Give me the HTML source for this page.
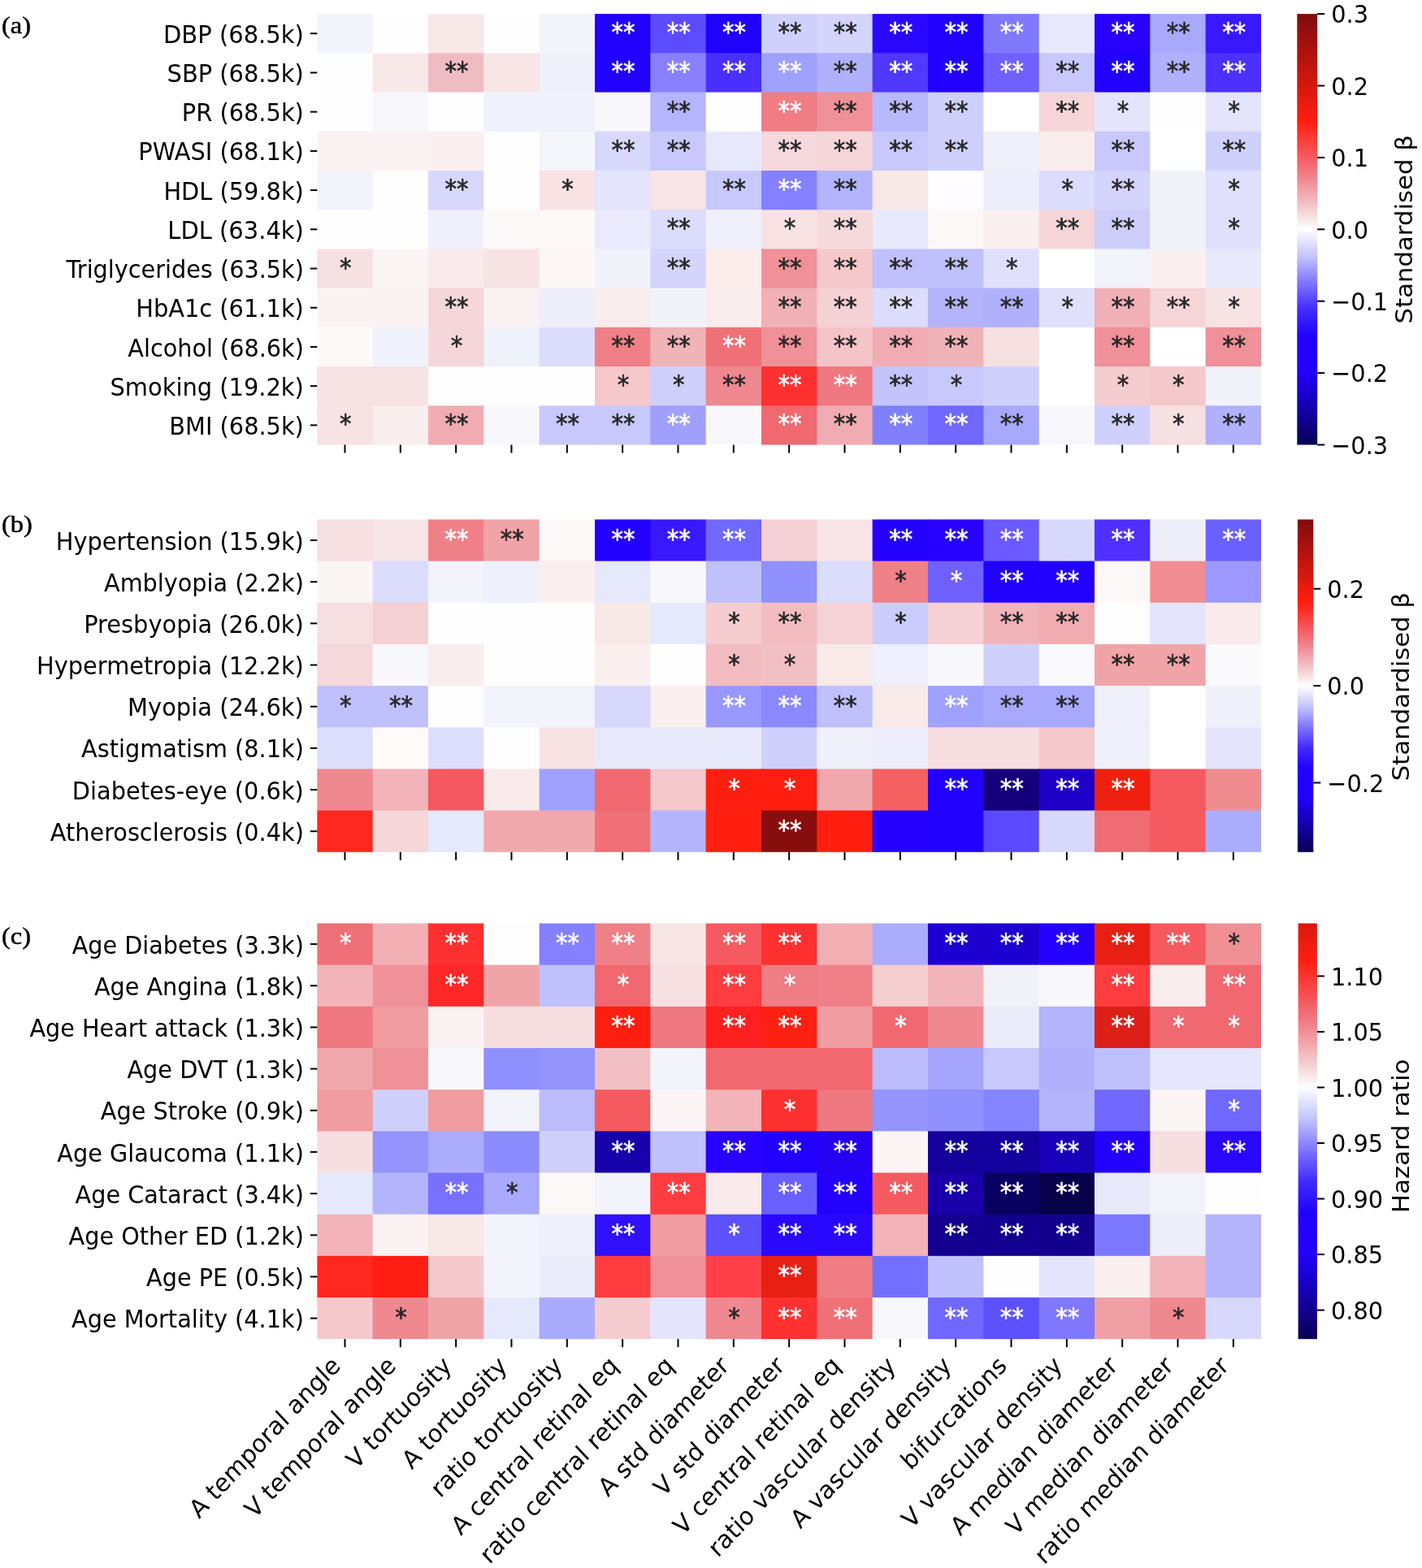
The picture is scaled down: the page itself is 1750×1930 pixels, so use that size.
<!DOCTYPE html><html><head><meta charset="utf-8"><style>html,body{margin:0;padding:0;background:#fff;}body{width:1750px;height:1930px;overflow:hidden;}svg{display:block;}text{font-family:"DejaVu Sans", "Liberation Sans", sans-serif;}</style></head><body>
<svg width="1750" height="1930" viewBox="0 0 1750 1930">
<rect x="0" y="0" width="1750" height="1930" fill="#fff"/>
<rect x="390.30" y="17.10" width="69.34" height="49.22" fill="#F2F3FB"/>
<rect x="458.64" y="17.10" width="69.34" height="49.22" fill="#FEFDFF"/>
<rect x="526.97" y="17.10" width="69.34" height="49.22" fill="#F8E8E8"/>
<rect x="595.31" y="17.10" width="69.34" height="49.22" fill="#FEFDFF"/>
<rect x="663.64" y="17.10" width="69.34" height="49.22" fill="#F3F3FB"/>
<rect x="731.98" y="17.10" width="69.34" height="49.22" fill="#2200FF"/>
<rect x="800.31" y="17.10" width="69.34" height="49.22" fill="#5C4CFF"/>
<rect x="868.65" y="17.10" width="69.34" height="49.22" fill="#2000FF"/>
<rect x="936.98" y="17.10" width="69.34" height="49.22" fill="#D0D0FC"/>
<rect x="1005.32" y="17.10" width="69.34" height="49.22" fill="#D4D4FC"/>
<rect x="1073.65" y="17.10" width="69.34" height="49.22" fill="#2A08FF"/>
<rect x="1141.99" y="17.10" width="69.34" height="49.22" fill="#2200FF"/>
<rect x="1210.32" y="17.10" width="69.34" height="49.22" fill="#8078FF"/>
<rect x="1278.66" y="17.10" width="69.34" height="49.22" fill="#E8E8FC"/>
<rect x="1346.99" y="17.10" width="69.34" height="49.22" fill="#2800FF"/>
<rect x="1415.33" y="17.10" width="69.34" height="49.22" fill="#A8A8FC"/>
<rect x="1483.66" y="17.10" width="68.34" height="49.22" fill="#3A18FF"/>
<rect x="390.30" y="65.32" width="69.34" height="49.22" fill="#FEFDFF"/>
<rect x="458.64" y="65.32" width="69.34" height="49.22" fill="#F8E8E8"/>
<rect x="526.97" y="65.32" width="69.34" height="49.22" fill="#F0BCC3"/>
<rect x="595.31" y="65.32" width="69.34" height="49.22" fill="#F8E6E6"/>
<rect x="663.64" y="65.32" width="69.34" height="49.22" fill="#F0F0FA"/>
<rect x="731.98" y="65.32" width="69.34" height="49.22" fill="#2200FF"/>
<rect x="800.31" y="65.32" width="69.34" height="49.22" fill="#8880FF"/>
<rect x="868.65" y="65.32" width="69.34" height="49.22" fill="#4A30FF"/>
<rect x="936.98" y="65.32" width="69.34" height="49.22" fill="#A0A0FF"/>
<rect x="1005.32" y="65.32" width="69.34" height="49.22" fill="#B0B0FC"/>
<rect x="1073.65" y="65.32" width="69.34" height="49.22" fill="#5038FF"/>
<rect x="1141.99" y="65.32" width="69.34" height="49.22" fill="#2200FF"/>
<rect x="1210.32" y="65.32" width="69.34" height="49.22" fill="#7060FF"/>
<rect x="1278.66" y="65.32" width="69.34" height="49.22" fill="#C8C8FC"/>
<rect x="1346.99" y="65.32" width="69.34" height="49.22" fill="#2200FF"/>
<rect x="1415.33" y="65.32" width="69.34" height="49.22" fill="#B0B0FC"/>
<rect x="1483.66" y="65.32" width="68.34" height="49.22" fill="#4C30FF"/>
<rect x="390.30" y="113.54" width="69.34" height="49.22" fill="#FEFDFF"/>
<rect x="458.64" y="113.54" width="69.34" height="49.22" fill="#F7F7FC"/>
<rect x="526.97" y="113.54" width="69.34" height="49.22" fill="#FEFDFF"/>
<rect x="595.31" y="113.54" width="69.34" height="49.22" fill="#F0F2FB"/>
<rect x="663.64" y="113.54" width="69.34" height="49.22" fill="#F0F2FB"/>
<rect x="731.98" y="113.54" width="69.34" height="49.22" fill="#F8F8FC"/>
<rect x="800.31" y="113.54" width="69.34" height="49.22" fill="#B4B4FF"/>
<rect x="868.65" y="113.54" width="69.34" height="49.22" fill="#FEFEFF"/>
<rect x="936.98" y="113.54" width="69.34" height="49.22" fill="#F07C84"/>
<rect x="1005.32" y="113.54" width="69.34" height="49.22" fill="#F09098"/>
<rect x="1073.65" y="113.54" width="69.34" height="49.22" fill="#B8B8FC"/>
<rect x="1141.99" y="113.54" width="69.34" height="49.22" fill="#CFCFFC"/>
<rect x="1210.32" y="113.54" width="69.34" height="49.22" fill="#FFFFFF"/>
<rect x="1278.66" y="113.54" width="69.34" height="49.22" fill="#F5D5D8"/>
<rect x="1346.99" y="113.54" width="69.34" height="49.22" fill="#E4E4FC"/>
<rect x="1415.33" y="113.54" width="69.34" height="49.22" fill="#FFFEFF"/>
<rect x="1483.66" y="113.54" width="68.34" height="49.22" fill="#E4E4FC"/>
<rect x="390.30" y="161.75" width="69.34" height="49.22" fill="#FBF3F3"/>
<rect x="458.64" y="161.75" width="69.34" height="49.22" fill="#FBF3F3"/>
<rect x="526.97" y="161.75" width="69.34" height="49.22" fill="#FAF0F0"/>
<rect x="595.31" y="161.75" width="69.34" height="49.22" fill="#FEFDFF"/>
<rect x="663.64" y="161.75" width="69.34" height="49.22" fill="#F5F5FC"/>
<rect x="731.98" y="161.75" width="69.34" height="49.22" fill="#D8D8FC"/>
<rect x="800.31" y="161.75" width="69.34" height="49.22" fill="#C8C8FC"/>
<rect x="868.65" y="161.75" width="69.34" height="49.22" fill="#E8E8FC"/>
<rect x="936.98" y="161.75" width="69.34" height="49.22" fill="#F5D8DC"/>
<rect x="1005.32" y="161.75" width="69.34" height="49.22" fill="#F5D6D9"/>
<rect x="1073.65" y="161.75" width="69.34" height="49.22" fill="#C8C8FC"/>
<rect x="1141.99" y="161.75" width="69.34" height="49.22" fill="#CFCFFC"/>
<rect x="1210.32" y="161.75" width="69.34" height="49.22" fill="#F0F0FA"/>
<rect x="1278.66" y="161.75" width="69.34" height="49.22" fill="#F9EDEE"/>
<rect x="1346.99" y="161.75" width="69.34" height="49.22" fill="#C8C8FC"/>
<rect x="1415.33" y="161.75" width="69.34" height="49.22" fill="#FFFFFF"/>
<rect x="1483.66" y="161.75" width="68.34" height="49.22" fill="#D0D0FC"/>
<rect x="390.30" y="209.97" width="69.34" height="49.22" fill="#F2F3FB"/>
<rect x="458.64" y="209.97" width="69.34" height="49.22" fill="#FEFDFF"/>
<rect x="526.97" y="209.97" width="69.34" height="49.22" fill="#D8D8FC"/>
<rect x="595.31" y="209.97" width="69.34" height="49.22" fill="#FEFDFF"/>
<rect x="663.64" y="209.97" width="69.34" height="49.22" fill="#F8E2E4"/>
<rect x="731.98" y="209.97" width="69.34" height="49.22" fill="#E4E4FC"/>
<rect x="800.31" y="209.97" width="69.34" height="49.22" fill="#F8E4E6"/>
<rect x="868.65" y="209.97" width="69.34" height="49.22" fill="#C8C8FC"/>
<rect x="936.98" y="209.97" width="69.34" height="49.22" fill="#8480FF"/>
<rect x="1005.32" y="209.97" width="69.34" height="49.22" fill="#B4B4FC"/>
<rect x="1073.65" y="209.97" width="69.34" height="49.22" fill="#F8E8E8"/>
<rect x="1141.99" y="209.97" width="69.34" height="49.22" fill="#FEFCFE"/>
<rect x="1210.32" y="209.97" width="69.34" height="49.22" fill="#ECECFA"/>
<rect x="1278.66" y="209.97" width="69.34" height="49.22" fill="#DCDCFC"/>
<rect x="1346.99" y="209.97" width="69.34" height="49.22" fill="#D4D4FC"/>
<rect x="1415.33" y="209.97" width="69.34" height="49.22" fill="#F2F2FA"/>
<rect x="1483.66" y="209.97" width="68.34" height="49.22" fill="#E0E0FC"/>
<rect x="390.30" y="258.19" width="69.34" height="49.22" fill="#FEFDFF"/>
<rect x="458.64" y="258.19" width="69.34" height="49.22" fill="#FEFDFF"/>
<rect x="526.97" y="258.19" width="69.34" height="49.22" fill="#F0F0FC"/>
<rect x="595.31" y="258.19" width="69.34" height="49.22" fill="#FDF8F8"/>
<rect x="663.64" y="258.19" width="69.34" height="49.22" fill="#FDF8F8"/>
<rect x="731.98" y="258.19" width="69.34" height="49.22" fill="#EAEAFC"/>
<rect x="800.31" y="258.19" width="69.34" height="49.22" fill="#DCDCFC"/>
<rect x="868.65" y="258.19" width="69.34" height="49.22" fill="#F0F0FC"/>
<rect x="936.98" y="258.19" width="69.34" height="49.22" fill="#F8E2E4"/>
<rect x="1005.32" y="258.19" width="69.34" height="49.22" fill="#F5DADC"/>
<rect x="1073.65" y="258.19" width="69.34" height="49.22" fill="#E8EAFC"/>
<rect x="1141.99" y="258.19" width="69.34" height="49.22" fill="#FDF8F8"/>
<rect x="1210.32" y="258.19" width="69.34" height="49.22" fill="#FBF0F0"/>
<rect x="1278.66" y="258.19" width="69.34" height="49.22" fill="#F5D5D8"/>
<rect x="1346.99" y="258.19" width="69.34" height="49.22" fill="#CDCDFC"/>
<rect x="1415.33" y="258.19" width="69.34" height="49.22" fill="#F2F2FA"/>
<rect x="1483.66" y="258.19" width="68.34" height="49.22" fill="#E0E0FC"/>
<rect x="390.30" y="306.41" width="69.34" height="49.22" fill="#F7E0E2"/>
<rect x="458.64" y="306.41" width="69.34" height="49.22" fill="#FBF5F5"/>
<rect x="526.97" y="306.41" width="69.34" height="49.22" fill="#F9EAEB"/>
<rect x="595.31" y="306.41" width="69.34" height="49.22" fill="#F7E2E4"/>
<rect x="663.64" y="306.41" width="69.34" height="49.22" fill="#FCF7F5"/>
<rect x="731.98" y="306.41" width="69.34" height="49.22" fill="#F2F2FA"/>
<rect x="800.31" y="306.41" width="69.34" height="49.22" fill="#D4D4FC"/>
<rect x="868.65" y="306.41" width="69.34" height="49.22" fill="#FAEDEC"/>
<rect x="936.98" y="306.41" width="69.34" height="49.22" fill="#F09098"/>
<rect x="1005.32" y="306.41" width="69.34" height="49.22" fill="#F5C8CC"/>
<rect x="1073.65" y="306.41" width="69.34" height="49.22" fill="#C0C0FC"/>
<rect x="1141.99" y="306.41" width="69.34" height="49.22" fill="#C0C0FC"/>
<rect x="1210.32" y="306.41" width="69.34" height="49.22" fill="#E0E0FC"/>
<rect x="1278.66" y="306.41" width="69.34" height="49.22" fill="#FFFFFF"/>
<rect x="1346.99" y="306.41" width="69.34" height="49.22" fill="#F2F3FB"/>
<rect x="1415.33" y="306.41" width="69.34" height="49.22" fill="#FAF0F0"/>
<rect x="1483.66" y="306.41" width="68.34" height="49.22" fill="#E8EAFC"/>
<rect x="390.30" y="354.63" width="69.34" height="49.22" fill="#FBF3F3"/>
<rect x="458.64" y="354.63" width="69.34" height="49.22" fill="#FBF3F3"/>
<rect x="526.97" y="354.63" width="69.34" height="49.22" fill="#F5D6D9"/>
<rect x="595.31" y="354.63" width="69.34" height="49.22" fill="#FAF2F2"/>
<rect x="663.64" y="354.63" width="69.34" height="49.22" fill="#EEEEFA"/>
<rect x="731.98" y="354.63" width="69.34" height="49.22" fill="#F9ECEC"/>
<rect x="800.31" y="354.63" width="69.34" height="49.22" fill="#F2F2FA"/>
<rect x="868.65" y="354.63" width="69.34" height="49.22" fill="#F9ECEC"/>
<rect x="936.98" y="354.63" width="69.34" height="49.22" fill="#F0B0B5"/>
<rect x="1005.32" y="354.63" width="69.34" height="49.22" fill="#F5D0D4"/>
<rect x="1073.65" y="354.63" width="69.34" height="49.22" fill="#DCDCFC"/>
<rect x="1141.99" y="354.63" width="69.34" height="49.22" fill="#B4B4FC"/>
<rect x="1210.32" y="354.63" width="69.34" height="49.22" fill="#B0B0FC"/>
<rect x="1278.66" y="354.63" width="69.34" height="49.22" fill="#E0E0FC"/>
<rect x="1346.99" y="354.63" width="69.34" height="49.22" fill="#F0B0B5"/>
<rect x="1415.33" y="354.63" width="69.34" height="49.22" fill="#F5D5D8"/>
<rect x="1483.66" y="354.63" width="68.34" height="49.22" fill="#F7E2E4"/>
<rect x="390.30" y="402.85" width="69.34" height="49.22" fill="#FEF9F9"/>
<rect x="458.64" y="402.85" width="69.34" height="49.22" fill="#F0F2FB"/>
<rect x="526.97" y="402.85" width="69.34" height="49.22" fill="#F5D6D9"/>
<rect x="595.31" y="402.85" width="69.34" height="49.22" fill="#F0F2FB"/>
<rect x="663.64" y="402.85" width="69.34" height="49.22" fill="#DCDCFC"/>
<rect x="731.98" y="402.85" width="69.34" height="49.22" fill="#F08088"/>
<rect x="800.31" y="402.85" width="69.34" height="49.22" fill="#F0B4B8"/>
<rect x="868.65" y="402.85" width="69.34" height="49.22" fill="#F07078"/>
<rect x="936.98" y="402.85" width="69.34" height="49.22" fill="#F09098"/>
<rect x="1005.32" y="402.85" width="69.34" height="49.22" fill="#F5C4C8"/>
<rect x="1073.65" y="402.85" width="69.34" height="49.22" fill="#F0ACB2"/>
<rect x="1141.99" y="402.85" width="69.34" height="49.22" fill="#F0B4B8"/>
<rect x="1210.32" y="402.85" width="69.34" height="49.22" fill="#F7E0E2"/>
<rect x="1278.66" y="402.85" width="69.34" height="49.22" fill="#FFFFFF"/>
<rect x="1346.99" y="402.85" width="69.34" height="49.22" fill="#F09098"/>
<rect x="1415.33" y="402.85" width="69.34" height="49.22" fill="#FFFFFF"/>
<rect x="1483.66" y="402.85" width="68.34" height="49.22" fill="#F09098"/>
<rect x="390.30" y="451.06" width="69.34" height="49.22" fill="#F7E2E4"/>
<rect x="458.64" y="451.06" width="69.34" height="49.22" fill="#F7E2E4"/>
<rect x="526.97" y="451.06" width="69.34" height="49.22" fill="#FFFEFF"/>
<rect x="595.31" y="451.06" width="69.34" height="49.22" fill="#FFFEFF"/>
<rect x="663.64" y="451.06" width="69.34" height="49.22" fill="#FFFEFF"/>
<rect x="731.98" y="451.06" width="69.34" height="49.22" fill="#F5C8CC"/>
<rect x="800.31" y="451.06" width="69.34" height="49.22" fill="#D0D0FC"/>
<rect x="868.65" y="451.06" width="69.34" height="49.22" fill="#F08890"/>
<rect x="936.98" y="451.06" width="69.34" height="49.22" fill="#FF3030"/>
<rect x="1005.32" y="451.06" width="69.34" height="49.22" fill="#F07880"/>
<rect x="1073.65" y="451.06" width="69.34" height="49.22" fill="#C4C4FC"/>
<rect x="1141.99" y="451.06" width="69.34" height="49.22" fill="#C8C8FC"/>
<rect x="1210.32" y="451.06" width="69.34" height="49.22" fill="#D0D0FC"/>
<rect x="1278.66" y="451.06" width="69.34" height="49.22" fill="#FFFFFF"/>
<rect x="1346.99" y="451.06" width="69.34" height="49.22" fill="#F5CCD0"/>
<rect x="1415.33" y="451.06" width="69.34" height="49.22" fill="#F5C8CC"/>
<rect x="1483.66" y="451.06" width="68.34" height="49.22" fill="#F2F3FA"/>
<rect x="390.30" y="499.28" width="69.34" height="48.22" fill="#F7E2E4"/>
<rect x="458.64" y="499.28" width="69.34" height="48.22" fill="#F9EEEE"/>
<rect x="526.97" y="499.28" width="69.34" height="48.22" fill="#F0ACB2"/>
<rect x="595.31" y="499.28" width="69.34" height="48.22" fill="#F7F7FC"/>
<rect x="663.64" y="499.28" width="69.34" height="48.22" fill="#C8C8FC"/>
<rect x="731.98" y="499.28" width="69.34" height="48.22" fill="#C8C8FC"/>
<rect x="800.31" y="499.28" width="69.34" height="48.22" fill="#A0A0FC"/>
<rect x="868.65" y="499.28" width="69.34" height="48.22" fill="#F8F8FC"/>
<rect x="936.98" y="499.28" width="69.34" height="48.22" fill="#F06870"/>
<rect x="1005.32" y="499.28" width="69.34" height="48.22" fill="#F0ACB2"/>
<rect x="1073.65" y="499.28" width="69.34" height="48.22" fill="#8080FF"/>
<rect x="1141.99" y="499.28" width="69.34" height="48.22" fill="#7068FF"/>
<rect x="1210.32" y="499.28" width="69.34" height="48.22" fill="#A8A8FC"/>
<rect x="1278.66" y="499.28" width="69.34" height="48.22" fill="#F8F8FC"/>
<rect x="1346.99" y="499.28" width="69.34" height="48.22" fill="#D0D0FC"/>
<rect x="1415.33" y="499.28" width="69.34" height="48.22" fill="#F7E0E2"/>
<rect x="1483.66" y="499.28" width="68.34" height="48.22" fill="#B0B0FC"/>
<text transform="translate(766.94 50.21) scale(1 1.08)" font-size="29" text-anchor="middle" fill="#ffffff" stroke="#ffffff" stroke-width="0.6" stroke-linejoin="round">**</text>
<text transform="translate(835.28 50.21) scale(1 1.08)" font-size="29" text-anchor="middle" fill="#ffffff" stroke="#ffffff" stroke-width="0.6" stroke-linejoin="round">**</text>
<text transform="translate(903.61 50.21) scale(1 1.08)" font-size="29" text-anchor="middle" fill="#ffffff" stroke="#ffffff" stroke-width="0.6" stroke-linejoin="round">**</text>
<text transform="translate(971.95 50.21) scale(1 1.08)" font-size="29" text-anchor="middle" fill="#262626" stroke="#262626" stroke-width="0.6" stroke-linejoin="round">**</text>
<text transform="translate(1040.29 50.21) scale(1 1.08)" font-size="29" text-anchor="middle" fill="#262626" stroke="#262626" stroke-width="0.6" stroke-linejoin="round">**</text>
<text transform="translate(1108.62 50.21) scale(1 1.08)" font-size="29" text-anchor="middle" fill="#ffffff" stroke="#ffffff" stroke-width="0.6" stroke-linejoin="round">**</text>
<text transform="translate(1176.96 50.21) scale(1 1.08)" font-size="29" text-anchor="middle" fill="#ffffff" stroke="#ffffff" stroke-width="0.6" stroke-linejoin="round">**</text>
<text transform="translate(1245.29 50.21) scale(1 1.08)" font-size="29" text-anchor="middle" fill="#ffffff" stroke="#ffffff" stroke-width="0.6" stroke-linejoin="round">**</text>
<text transform="translate(1381.96 50.21) scale(1 1.08)" font-size="29" text-anchor="middle" fill="#ffffff" stroke="#ffffff" stroke-width="0.6" stroke-linejoin="round">**</text>
<text transform="translate(1450.30 50.21) scale(1 1.08)" font-size="29" text-anchor="middle" fill="#262626" stroke="#262626" stroke-width="0.6" stroke-linejoin="round">**</text>
<text transform="translate(1518.63 50.21) scale(1 1.08)" font-size="29" text-anchor="middle" fill="#ffffff" stroke="#ffffff" stroke-width="0.6" stroke-linejoin="round">**</text>
<line x1="381.80" y1="41.21" x2="390.30" y2="41.21" stroke="#000" stroke-width="2"/>
<text transform="translate(373.87 52.81) scale(0.9427 1)" font-size="30.75" text-anchor="end" fill="#000">DBP (68.5k)</text>
<text transform="translate(561.94 98.43) scale(1 1.08)" font-size="29" text-anchor="middle" fill="#262626" stroke="#262626" stroke-width="0.6" stroke-linejoin="round">**</text>
<text transform="translate(766.94 98.43) scale(1 1.08)" font-size="29" text-anchor="middle" fill="#ffffff" stroke="#ffffff" stroke-width="0.6" stroke-linejoin="round">**</text>
<text transform="translate(835.28 98.43) scale(1 1.08)" font-size="29" text-anchor="middle" fill="#ffffff" stroke="#ffffff" stroke-width="0.6" stroke-linejoin="round">**</text>
<text transform="translate(903.61 98.43) scale(1 1.08)" font-size="29" text-anchor="middle" fill="#ffffff" stroke="#ffffff" stroke-width="0.6" stroke-linejoin="round">**</text>
<text transform="translate(971.95 98.43) scale(1 1.08)" font-size="29" text-anchor="middle" fill="#ffffff" stroke="#ffffff" stroke-width="0.6" stroke-linejoin="round">**</text>
<text transform="translate(1040.29 98.43) scale(1 1.08)" font-size="29" text-anchor="middle" fill="#262626" stroke="#262626" stroke-width="0.6" stroke-linejoin="round">**</text>
<text transform="translate(1108.62 98.43) scale(1 1.08)" font-size="29" text-anchor="middle" fill="#ffffff" stroke="#ffffff" stroke-width="0.6" stroke-linejoin="round">**</text>
<text transform="translate(1176.96 98.43) scale(1 1.08)" font-size="29" text-anchor="middle" fill="#ffffff" stroke="#ffffff" stroke-width="0.6" stroke-linejoin="round">**</text>
<text transform="translate(1245.29 98.43) scale(1 1.08)" font-size="29" text-anchor="middle" fill="#ffffff" stroke="#ffffff" stroke-width="0.6" stroke-linejoin="round">**</text>
<text transform="translate(1313.63 98.43) scale(1 1.08)" font-size="29" text-anchor="middle" fill="#262626" stroke="#262626" stroke-width="0.6" stroke-linejoin="round">**</text>
<text transform="translate(1381.96 98.43) scale(1 1.08)" font-size="29" text-anchor="middle" fill="#ffffff" stroke="#ffffff" stroke-width="0.6" stroke-linejoin="round">**</text>
<text transform="translate(1450.30 98.43) scale(1 1.08)" font-size="29" text-anchor="middle" fill="#262626" stroke="#262626" stroke-width="0.6" stroke-linejoin="round">**</text>
<text transform="translate(1518.63 98.43) scale(1 1.08)" font-size="29" text-anchor="middle" fill="#ffffff" stroke="#ffffff" stroke-width="0.6" stroke-linejoin="round">**</text>
<line x1="381.80" y1="89.43" x2="390.30" y2="89.43" stroke="#000" stroke-width="2"/>
<text transform="translate(373.86 101.03) scale(0.9394 1)" font-size="30.75" text-anchor="end" fill="#000">SBP (68.5k)</text>
<text transform="translate(835.28 146.65) scale(1 1.08)" font-size="29" text-anchor="middle" fill="#262626" stroke="#262626" stroke-width="0.6" stroke-linejoin="round">**</text>
<text transform="translate(971.95 146.65) scale(1 1.08)" font-size="29" text-anchor="middle" fill="#ffffff" stroke="#ffffff" stroke-width="0.6" stroke-linejoin="round">**</text>
<text transform="translate(1040.29 146.65) scale(1 1.08)" font-size="29" text-anchor="middle" fill="#262626" stroke="#262626" stroke-width="0.6" stroke-linejoin="round">**</text>
<text transform="translate(1108.62 146.65) scale(1 1.08)" font-size="29" text-anchor="middle" fill="#262626" stroke="#262626" stroke-width="0.6" stroke-linejoin="round">**</text>
<text transform="translate(1176.96 146.65) scale(1 1.08)" font-size="29" text-anchor="middle" fill="#262626" stroke="#262626" stroke-width="0.6" stroke-linejoin="round">**</text>
<text transform="translate(1313.63 146.65) scale(1 1.08)" font-size="29" text-anchor="middle" fill="#262626" stroke="#262626" stroke-width="0.6" stroke-linejoin="round">**</text>
<text transform="translate(1381.96 146.65) scale(1 1.08)" font-size="29" text-anchor="middle" fill="#262626" stroke="#262626" stroke-width="0.6" stroke-linejoin="round">*</text>
<text transform="translate(1518.63 146.65) scale(1 1.08)" font-size="29" text-anchor="middle" fill="#262626" stroke="#262626" stroke-width="0.6" stroke-linejoin="round">*</text>
<line x1="381.80" y1="137.65" x2="390.30" y2="137.65" stroke="#000" stroke-width="2"/>
<text transform="translate(373.86 149.25) scale(0.9387 1)" font-size="30.75" text-anchor="end" fill="#000">PR (68.5k)</text>
<text transform="translate(766.94 194.86) scale(1 1.08)" font-size="29" text-anchor="middle" fill="#262626" stroke="#262626" stroke-width="0.6" stroke-linejoin="round">**</text>
<text transform="translate(835.28 194.86) scale(1 1.08)" font-size="29" text-anchor="middle" fill="#262626" stroke="#262626" stroke-width="0.6" stroke-linejoin="round">**</text>
<text transform="translate(971.95 194.86) scale(1 1.08)" font-size="29" text-anchor="middle" fill="#262626" stroke="#262626" stroke-width="0.6" stroke-linejoin="round">**</text>
<text transform="translate(1040.29 194.86) scale(1 1.08)" font-size="29" text-anchor="middle" fill="#262626" stroke="#262626" stroke-width="0.6" stroke-linejoin="round">**</text>
<text transform="translate(1108.62 194.86) scale(1 1.08)" font-size="29" text-anchor="middle" fill="#262626" stroke="#262626" stroke-width="0.6" stroke-linejoin="round">**</text>
<text transform="translate(1176.96 194.86) scale(1 1.08)" font-size="29" text-anchor="middle" fill="#262626" stroke="#262626" stroke-width="0.6" stroke-linejoin="round">**</text>
<text transform="translate(1381.96 194.86) scale(1 1.08)" font-size="29" text-anchor="middle" fill="#262626" stroke="#262626" stroke-width="0.6" stroke-linejoin="round">**</text>
<text transform="translate(1518.63 194.86) scale(1 1.08)" font-size="29" text-anchor="middle" fill="#262626" stroke="#262626" stroke-width="0.6" stroke-linejoin="round">**</text>
<line x1="381.80" y1="185.86" x2="390.30" y2="185.86" stroke="#000" stroke-width="2"/>
<text transform="translate(373.86 197.46) scale(0.9387 1)" font-size="30.75" text-anchor="end" fill="#000">PWASI (68.1k)</text>
<text transform="translate(561.94 243.08) scale(1 1.08)" font-size="29" text-anchor="middle" fill="#262626" stroke="#262626" stroke-width="0.6" stroke-linejoin="round">**</text>
<text transform="translate(698.61 243.08) scale(1 1.08)" font-size="29" text-anchor="middle" fill="#262626" stroke="#262626" stroke-width="0.6" stroke-linejoin="round">*</text>
<text transform="translate(903.61 243.08) scale(1 1.08)" font-size="29" text-anchor="middle" fill="#262626" stroke="#262626" stroke-width="0.6" stroke-linejoin="round">**</text>
<text transform="translate(971.95 243.08) scale(1 1.08)" font-size="29" text-anchor="middle" fill="#ffffff" stroke="#ffffff" stroke-width="0.6" stroke-linejoin="round">**</text>
<text transform="translate(1040.29 243.08) scale(1 1.08)" font-size="29" text-anchor="middle" fill="#262626" stroke="#262626" stroke-width="0.6" stroke-linejoin="round">**</text>
<text transform="translate(1313.63 243.08) scale(1 1.08)" font-size="29" text-anchor="middle" fill="#262626" stroke="#262626" stroke-width="0.6" stroke-linejoin="round">*</text>
<text transform="translate(1381.96 243.08) scale(1 1.08)" font-size="29" text-anchor="middle" fill="#262626" stroke="#262626" stroke-width="0.6" stroke-linejoin="round">**</text>
<text transform="translate(1518.63 243.08) scale(1 1.08)" font-size="29" text-anchor="middle" fill="#262626" stroke="#262626" stroke-width="0.6" stroke-linejoin="round">*</text>
<line x1="381.80" y1="234.08" x2="390.30" y2="234.08" stroke="#000" stroke-width="2"/>
<text transform="translate(373.86 245.68) scale(0.9374 1)" font-size="30.75" text-anchor="end" fill="#000">HDL (59.8k)</text>
<text transform="translate(835.28 291.30) scale(1 1.08)" font-size="29" text-anchor="middle" fill="#262626" stroke="#262626" stroke-width="0.6" stroke-linejoin="round">**</text>
<text transform="translate(971.95 291.30) scale(1 1.08)" font-size="29" text-anchor="middle" fill="#262626" stroke="#262626" stroke-width="0.6" stroke-linejoin="round">*</text>
<text transform="translate(1040.29 291.30) scale(1 1.08)" font-size="29" text-anchor="middle" fill="#262626" stroke="#262626" stroke-width="0.6" stroke-linejoin="round">**</text>
<text transform="translate(1313.63 291.30) scale(1 1.08)" font-size="29" text-anchor="middle" fill="#262626" stroke="#262626" stroke-width="0.6" stroke-linejoin="round">**</text>
<text transform="translate(1381.96 291.30) scale(1 1.08)" font-size="29" text-anchor="middle" fill="#262626" stroke="#262626" stroke-width="0.6" stroke-linejoin="round">**</text>
<text transform="translate(1518.63 291.30) scale(1 1.08)" font-size="29" text-anchor="middle" fill="#262626" stroke="#262626" stroke-width="0.6" stroke-linejoin="round">*</text>
<line x1="381.80" y1="282.30" x2="390.30" y2="282.30" stroke="#000" stroke-width="2"/>
<text transform="translate(373.87 293.90) scale(0.9416 1)" font-size="30.75" text-anchor="end" fill="#000">LDL (63.4k)</text>
<text transform="translate(425.27 339.52) scale(1 1.08)" font-size="29" text-anchor="middle" fill="#262626" stroke="#262626" stroke-width="0.6" stroke-linejoin="round">*</text>
<text transform="translate(835.28 339.52) scale(1 1.08)" font-size="29" text-anchor="middle" fill="#262626" stroke="#262626" stroke-width="0.6" stroke-linejoin="round">**</text>
<text transform="translate(971.95 339.52) scale(1 1.08)" font-size="29" text-anchor="middle" fill="#262626" stroke="#262626" stroke-width="0.6" stroke-linejoin="round">**</text>
<text transform="translate(1040.29 339.52) scale(1 1.08)" font-size="29" text-anchor="middle" fill="#262626" stroke="#262626" stroke-width="0.6" stroke-linejoin="round">**</text>
<text transform="translate(1108.62 339.52) scale(1 1.08)" font-size="29" text-anchor="middle" fill="#262626" stroke="#262626" stroke-width="0.6" stroke-linejoin="round">**</text>
<text transform="translate(1176.96 339.52) scale(1 1.08)" font-size="29" text-anchor="middle" fill="#262626" stroke="#262626" stroke-width="0.6" stroke-linejoin="round">**</text>
<text transform="translate(1245.29 339.52) scale(1 1.08)" font-size="29" text-anchor="middle" fill="#262626" stroke="#262626" stroke-width="0.6" stroke-linejoin="round">*</text>
<line x1="381.80" y1="330.52" x2="390.30" y2="330.52" stroke="#000" stroke-width="2"/>
<text transform="translate(373.85 342.12) scale(0.9338 1)" font-size="30.75" text-anchor="end" fill="#000">Triglycerides (63.5k)</text>
<text transform="translate(561.94 387.74) scale(1 1.08)" font-size="29" text-anchor="middle" fill="#262626" stroke="#262626" stroke-width="0.6" stroke-linejoin="round">**</text>
<text transform="translate(971.95 387.74) scale(1 1.08)" font-size="29" text-anchor="middle" fill="#262626" stroke="#262626" stroke-width="0.6" stroke-linejoin="round">**</text>
<text transform="translate(1040.29 387.74) scale(1 1.08)" font-size="29" text-anchor="middle" fill="#262626" stroke="#262626" stroke-width="0.6" stroke-linejoin="round">**</text>
<text transform="translate(1108.62 387.74) scale(1 1.08)" font-size="29" text-anchor="middle" fill="#262626" stroke="#262626" stroke-width="0.6" stroke-linejoin="round">**</text>
<text transform="translate(1176.96 387.74) scale(1 1.08)" font-size="29" text-anchor="middle" fill="#262626" stroke="#262626" stroke-width="0.6" stroke-linejoin="round">**</text>
<text transform="translate(1245.29 387.74) scale(1 1.08)" font-size="29" text-anchor="middle" fill="#262626" stroke="#262626" stroke-width="0.6" stroke-linejoin="round">**</text>
<text transform="translate(1313.63 387.74) scale(1 1.08)" font-size="29" text-anchor="middle" fill="#262626" stroke="#262626" stroke-width="0.6" stroke-linejoin="round">*</text>
<text transform="translate(1381.96 387.74) scale(1 1.08)" font-size="29" text-anchor="middle" fill="#262626" stroke="#262626" stroke-width="0.6" stroke-linejoin="round">**</text>
<text transform="translate(1450.30 387.74) scale(1 1.08)" font-size="29" text-anchor="middle" fill="#262626" stroke="#262626" stroke-width="0.6" stroke-linejoin="round">**</text>
<text transform="translate(1518.63 387.74) scale(1 1.08)" font-size="29" text-anchor="middle" fill="#262626" stroke="#262626" stroke-width="0.6" stroke-linejoin="round">*</text>
<line x1="381.80" y1="378.74" x2="390.30" y2="378.74" stroke="#000" stroke-width="2"/>
<text transform="translate(373.86 390.34) scale(0.9391 1)" font-size="30.75" text-anchor="end" fill="#000">HbA1c (61.1k)</text>
<text transform="translate(561.94 435.95) scale(1 1.08)" font-size="29" text-anchor="middle" fill="#262626" stroke="#262626" stroke-width="0.6" stroke-linejoin="round">*</text>
<text transform="translate(766.94 435.95) scale(1 1.08)" font-size="29" text-anchor="middle" fill="#262626" stroke="#262626" stroke-width="0.6" stroke-linejoin="round">**</text>
<text transform="translate(835.28 435.95) scale(1 1.08)" font-size="29" text-anchor="middle" fill="#262626" stroke="#262626" stroke-width="0.6" stroke-linejoin="round">**</text>
<text transform="translate(903.61 435.95) scale(1 1.08)" font-size="29" text-anchor="middle" fill="#ffffff" stroke="#ffffff" stroke-width="0.6" stroke-linejoin="round">**</text>
<text transform="translate(971.95 435.95) scale(1 1.08)" font-size="29" text-anchor="middle" fill="#262626" stroke="#262626" stroke-width="0.6" stroke-linejoin="round">**</text>
<text transform="translate(1040.29 435.95) scale(1 1.08)" font-size="29" text-anchor="middle" fill="#262626" stroke="#262626" stroke-width="0.6" stroke-linejoin="round">**</text>
<text transform="translate(1108.62 435.95) scale(1 1.08)" font-size="29" text-anchor="middle" fill="#262626" stroke="#262626" stroke-width="0.6" stroke-linejoin="round">**</text>
<text transform="translate(1176.96 435.95) scale(1 1.08)" font-size="29" text-anchor="middle" fill="#262626" stroke="#262626" stroke-width="0.6" stroke-linejoin="round">**</text>
<text transform="translate(1381.96 435.95) scale(1 1.08)" font-size="29" text-anchor="middle" fill="#262626" stroke="#262626" stroke-width="0.6" stroke-linejoin="round">**</text>
<text transform="translate(1518.63 435.95) scale(1 1.08)" font-size="29" text-anchor="middle" fill="#262626" stroke="#262626" stroke-width="0.6" stroke-linejoin="round">**</text>
<line x1="381.80" y1="426.95" x2="390.30" y2="426.95" stroke="#000" stroke-width="2"/>
<text transform="translate(373.85 438.55) scale(0.9330 1)" font-size="30.75" text-anchor="end" fill="#000">Alcohol (68.6k)</text>
<text transform="translate(766.94 484.17) scale(1 1.08)" font-size="29" text-anchor="middle" fill="#262626" stroke="#262626" stroke-width="0.6" stroke-linejoin="round">*</text>
<text transform="translate(835.28 484.17) scale(1 1.08)" font-size="29" text-anchor="middle" fill="#262626" stroke="#262626" stroke-width="0.6" stroke-linejoin="round">*</text>
<text transform="translate(903.61 484.17) scale(1 1.08)" font-size="29" text-anchor="middle" fill="#262626" stroke="#262626" stroke-width="0.6" stroke-linejoin="round">**</text>
<text transform="translate(971.95 484.17) scale(1 1.08)" font-size="29" text-anchor="middle" fill="#ffffff" stroke="#ffffff" stroke-width="0.6" stroke-linejoin="round">**</text>
<text transform="translate(1040.29 484.17) scale(1 1.08)" font-size="29" text-anchor="middle" fill="#ffffff" stroke="#ffffff" stroke-width="0.6" stroke-linejoin="round">**</text>
<text transform="translate(1108.62 484.17) scale(1 1.08)" font-size="29" text-anchor="middle" fill="#262626" stroke="#262626" stroke-width="0.6" stroke-linejoin="round">**</text>
<text transform="translate(1176.96 484.17) scale(1 1.08)" font-size="29" text-anchor="middle" fill="#262626" stroke="#262626" stroke-width="0.6" stroke-linejoin="round">*</text>
<text transform="translate(1381.96 484.17) scale(1 1.08)" font-size="29" text-anchor="middle" fill="#262626" stroke="#262626" stroke-width="0.6" stroke-linejoin="round">*</text>
<text transform="translate(1450.30 484.17) scale(1 1.08)" font-size="29" text-anchor="middle" fill="#262626" stroke="#262626" stroke-width="0.6" stroke-linejoin="round">*</text>
<line x1="381.80" y1="475.17" x2="390.30" y2="475.17" stroke="#000" stroke-width="2"/>
<text transform="translate(373.86 486.77) scale(0.9398 1)" font-size="30.75" text-anchor="end" fill="#000">Smoking (19.2k)</text>
<text transform="translate(425.27 532.39) scale(1 1.08)" font-size="29" text-anchor="middle" fill="#262626" stroke="#262626" stroke-width="0.6" stroke-linejoin="round">*</text>
<text transform="translate(561.94 532.39) scale(1 1.08)" font-size="29" text-anchor="middle" fill="#262626" stroke="#262626" stroke-width="0.6" stroke-linejoin="round">**</text>
<text transform="translate(698.61 532.39) scale(1 1.08)" font-size="29" text-anchor="middle" fill="#262626" stroke="#262626" stroke-width="0.6" stroke-linejoin="round">**</text>
<text transform="translate(766.94 532.39) scale(1 1.08)" font-size="29" text-anchor="middle" fill="#262626" stroke="#262626" stroke-width="0.6" stroke-linejoin="round">**</text>
<text transform="translate(835.28 532.39) scale(1 1.08)" font-size="29" text-anchor="middle" fill="#ffffff" stroke="#ffffff" stroke-width="0.6" stroke-linejoin="round">**</text>
<text transform="translate(971.95 532.39) scale(1 1.08)" font-size="29" text-anchor="middle" fill="#ffffff" stroke="#ffffff" stroke-width="0.6" stroke-linejoin="round">**</text>
<text transform="translate(1040.29 532.39) scale(1 1.08)" font-size="29" text-anchor="middle" fill="#262626" stroke="#262626" stroke-width="0.6" stroke-linejoin="round">**</text>
<text transform="translate(1108.62 532.39) scale(1 1.08)" font-size="29" text-anchor="middle" fill="#ffffff" stroke="#ffffff" stroke-width="0.6" stroke-linejoin="round">**</text>
<text transform="translate(1176.96 532.39) scale(1 1.08)" font-size="29" text-anchor="middle" fill="#ffffff" stroke="#ffffff" stroke-width="0.6" stroke-linejoin="round">**</text>
<text transform="translate(1245.29 532.39) scale(1 1.08)" font-size="29" text-anchor="middle" fill="#262626" stroke="#262626" stroke-width="0.6" stroke-linejoin="round">**</text>
<text transform="translate(1381.96 532.39) scale(1 1.08)" font-size="29" text-anchor="middle" fill="#262626" stroke="#262626" stroke-width="0.6" stroke-linejoin="round">**</text>
<text transform="translate(1450.30 532.39) scale(1 1.08)" font-size="29" text-anchor="middle" fill="#262626" stroke="#262626" stroke-width="0.6" stroke-linejoin="round">*</text>
<text transform="translate(1518.63 532.39) scale(1 1.08)" font-size="29" text-anchor="middle" fill="#262626" stroke="#262626" stroke-width="0.6" stroke-linejoin="round">**</text>
<line x1="381.80" y1="523.39" x2="390.30" y2="523.39" stroke="#000" stroke-width="2"/>
<text transform="translate(373.85 534.99) scale(0.9366 1)" font-size="30.75" text-anchor="end" fill="#000">BMI (68.5k)</text>
<line x1="424.47" y1="547.50" x2="424.47" y2="557.50" stroke="#000" stroke-width="2"/>
<line x1="492.80" y1="547.50" x2="492.80" y2="557.50" stroke="#000" stroke-width="2"/>
<line x1="561.14" y1="547.50" x2="561.14" y2="557.50" stroke="#000" stroke-width="2"/>
<line x1="629.47" y1="547.50" x2="629.47" y2="557.50" stroke="#000" stroke-width="2"/>
<line x1="697.81" y1="547.50" x2="697.81" y2="557.50" stroke="#000" stroke-width="2"/>
<line x1="766.14" y1="547.50" x2="766.14" y2="557.50" stroke="#000" stroke-width="2"/>
<line x1="834.48" y1="547.50" x2="834.48" y2="557.50" stroke="#000" stroke-width="2"/>
<line x1="902.81" y1="547.50" x2="902.81" y2="557.50" stroke="#000" stroke-width="2"/>
<line x1="971.15" y1="547.50" x2="971.15" y2="557.50" stroke="#000" stroke-width="2"/>
<line x1="1039.49" y1="547.50" x2="1039.49" y2="557.50" stroke="#000" stroke-width="2"/>
<line x1="1107.82" y1="547.50" x2="1107.82" y2="557.50" stroke="#000" stroke-width="2"/>
<line x1="1176.16" y1="547.50" x2="1176.16" y2="557.50" stroke="#000" stroke-width="2"/>
<line x1="1244.49" y1="547.50" x2="1244.49" y2="557.50" stroke="#000" stroke-width="2"/>
<line x1="1312.83" y1="547.50" x2="1312.83" y2="557.50" stroke="#000" stroke-width="2"/>
<line x1="1381.16" y1="547.50" x2="1381.16" y2="557.50" stroke="#000" stroke-width="2"/>
<line x1="1449.50" y1="547.50" x2="1449.50" y2="557.50" stroke="#000" stroke-width="2"/>
<line x1="1517.83" y1="547.50" x2="1517.83" y2="557.50" stroke="#000" stroke-width="2"/>
<text transform="translate(1.9 41.3) scale(1.1 1)" font-size="29.6" fill="#000" stroke="#000" stroke-width="0.5" style="font-family:'Liberation Serif',serif">(a)</text>
<defs><linearGradient id="g1" x1="0" y1="0" x2="0" y2="1"><stop offset="0.0000" stop-color="rgb(128,12,12)"/><stop offset="0.0078" stop-color="rgb(132,13,12)"/><stop offset="0.0156" stop-color="rgb(136,13,12)"/><stop offset="0.0234" stop-color="rgb(140,14,12)"/><stop offset="0.0312" stop-color="rgb(144,14,12)"/><stop offset="0.0391" stop-color="rgb(148,15,13)"/><stop offset="0.0469" stop-color="rgb(152,15,13)"/><stop offset="0.0547" stop-color="rgb(156,16,13)"/><stop offset="0.0625" stop-color="rgb(160,16,13)"/><stop offset="0.0703" stop-color="rgb(164,17,13)"/><stop offset="0.0781" stop-color="rgb(168,18,13)"/><stop offset="0.0859" stop-color="rgb(172,18,13)"/><stop offset="0.0938" stop-color="rgb(176,19,14)"/><stop offset="0.1016" stop-color="rgb(180,19,14)"/><stop offset="0.1094" stop-color="rgb(184,20,14)"/><stop offset="0.1172" stop-color="rgb(188,20,14)"/><stop offset="0.1250" stop-color="rgb(192,21,14)"/><stop offset="0.1328" stop-color="rgb(195,22,14)"/><stop offset="0.1406" stop-color="rgb(199,22,14)"/><stop offset="0.1484" stop-color="rgb(203,23,14)"/><stop offset="0.1562" stop-color="rgb(207,23,14)"/><stop offset="0.1641" stop-color="rgb(211,24,15)"/><stop offset="0.1719" stop-color="rgb(215,24,15)"/><stop offset="0.1797" stop-color="rgb(219,25,15)"/><stop offset="0.1875" stop-color="rgb(223,26,15)"/><stop offset="0.1953" stop-color="rgb(227,26,15)"/><stop offset="0.2031" stop-color="rgb(231,27,15)"/><stop offset="0.2109" stop-color="rgb(235,27,15)"/><stop offset="0.2188" stop-color="rgb(239,28,16)"/><stop offset="0.2266" stop-color="rgb(243,28,16)"/><stop offset="0.2344" stop-color="rgb(247,29,16)"/><stop offset="0.2422" stop-color="rgb(251,29,16)"/><stop offset="0.2500" stop-color="rgb(255,30,16)"/><stop offset="0.2578" stop-color="rgb(254,36,24)"/><stop offset="0.2656" stop-color="rgb(253,41,31)"/><stop offset="0.2734" stop-color="rgb(252,47,39)"/><stop offset="0.2812" stop-color="rgb(251,53,47)"/><stop offset="0.2891" stop-color="rgb(250,59,55)"/><stop offset="0.2969" stop-color="rgb(249,64,62)"/><stop offset="0.3047" stop-color="rgb(248,70,70)"/><stop offset="0.3125" stop-color="rgb(247,76,78)"/><stop offset="0.3203" stop-color="rgb(246,82,85)"/><stop offset="0.3281" stop-color="rgb(245,88,93)"/><stop offset="0.3359" stop-color="rgb(244,94,100)"/><stop offset="0.3438" stop-color="rgb(243,101,107)"/><stop offset="0.3516" stop-color="rgb(242,108,114)"/><stop offset="0.3594" stop-color="rgb(242,115,122)"/><stop offset="0.3672" stop-color="rgb(241,121,129)"/><stop offset="0.3750" stop-color="rgb(240,128,136)"/><stop offset="0.3828" stop-color="rgb(240,136,143)"/><stop offset="0.3906" stop-color="rgb(240,144,151)"/><stop offset="0.3984" stop-color="rgb(241,151,158)"/><stop offset="0.4062" stop-color="rgb(241,159,166)"/><stop offset="0.4141" stop-color="rgb(241,167,173)"/><stop offset="0.4219" stop-color="rgb(242,174,180)"/><stop offset="0.4297" stop-color="rgb(242,182,188)"/><stop offset="0.4375" stop-color="rgb(242,190,195)"/><stop offset="0.4453" stop-color="rgb(243,198,202)"/><stop offset="0.4531" stop-color="rgb(244,206,210)"/><stop offset="0.4609" stop-color="rgb(246,214,217)"/><stop offset="0.4688" stop-color="rgb(247,222,224)"/><stop offset="0.4766" stop-color="rgb(248,230,232)"/><stop offset="0.4844" stop-color="rgb(251,238,239)"/><stop offset="0.4922" stop-color="rgb(253,247,247)"/><stop offset="0.5000" stop-color="rgb(255,255,255)"/><stop offset="0.5078" stop-color="rgb(247,247,254)"/><stop offset="0.5156" stop-color="rgb(239,239,253)"/><stop offset="0.5234" stop-color="rgb(232,232,252)"/><stop offset="0.5312" stop-color="rgb(224,224,252)"/><stop offset="0.5391" stop-color="rgb(217,217,252)"/><stop offset="0.5469" stop-color="rgb(210,210,253)"/><stop offset="0.5547" stop-color="rgb(203,203,253)"/><stop offset="0.5625" stop-color="rgb(196,196,253)"/><stop offset="0.5703" stop-color="rgb(187,186,253)"/><stop offset="0.5781" stop-color="rgb(178,176,254)"/><stop offset="0.5859" stop-color="rgb(170,166,254)"/><stop offset="0.5938" stop-color="rgb(161,156,254)"/><stop offset="0.6016" stop-color="rgb(152,146,254)"/><stop offset="0.6094" stop-color="rgb(144,136,254)"/><stop offset="0.6172" stop-color="rgb(135,126,255)"/><stop offset="0.6250" stop-color="rgb(126,116,255)"/><stop offset="0.6328" stop-color="rgb(118,107,255)"/><stop offset="0.6406" stop-color="rgb(111,98,255)"/><stop offset="0.6484" stop-color="rgb(104,88,255)"/><stop offset="0.6562" stop-color="rgb(96,79,255)"/><stop offset="0.6641" stop-color="rgb(88,70,255)"/><stop offset="0.6719" stop-color="rgb(81,60,255)"/><stop offset="0.6797" stop-color="rgb(74,51,255)"/><stop offset="0.6875" stop-color="rgb(66,42,255)"/><stop offset="0.6953" stop-color="rgb(62,37,255)"/><stop offset="0.7031" stop-color="rgb(58,32,255)"/><stop offset="0.7109" stop-color="rgb(54,26,255)"/><stop offset="0.7188" stop-color="rgb(50,21,255)"/><stop offset="0.7266" stop-color="rgb(46,16,255)"/><stop offset="0.7344" stop-color="rgb(42,10,255)"/><stop offset="0.7422" stop-color="rgb(38,5,255)"/><stop offset="0.7500" stop-color="rgb(34,0,255)"/><stop offset="0.7578" stop-color="rgb(34,0,255)"/><stop offset="0.7656" stop-color="rgb(34,0,254)"/><stop offset="0.7734" stop-color="rgb(34,0,254)"/><stop offset="0.7812" stop-color="rgb(34,0,253)"/><stop offset="0.7891" stop-color="rgb(34,0,253)"/><stop offset="0.7969" stop-color="rgb(34,0,252)"/><stop offset="0.8047" stop-color="rgb(34,0,252)"/><stop offset="0.8125" stop-color="rgb(34,0,251)"/><stop offset="0.8203" stop-color="rgb(34,0,251)"/><stop offset="0.8281" stop-color="rgb(34,0,250)"/><stop offset="0.8359" stop-color="rgb(33,0,247)"/><stop offset="0.8438" stop-color="rgb(32,0,239)"/><stop offset="0.8516" stop-color="rgb(31,0,232)"/><stop offset="0.8594" stop-color="rgb(30,0,225)"/><stop offset="0.8672" stop-color="rgb(28,0,218)"/><stop offset="0.8750" stop-color="rgb(27,0,211)"/><stop offset="0.8828" stop-color="rgb(26,0,204)"/><stop offset="0.8906" stop-color="rgb(24,0,197)"/><stop offset="0.8984" stop-color="rgb(23,0,189)"/><stop offset="0.9062" stop-color="rgb(22,0,181)"/><stop offset="0.9141" stop-color="rgb(21,0,173)"/><stop offset="0.9219" stop-color="rgb(20,0,165)"/><stop offset="0.9297" stop-color="rgb(18,0,157)"/><stop offset="0.9375" stop-color="rgb(17,0,149)"/><stop offset="0.9453" stop-color="rgb(16,0,141)"/><stop offset="0.9531" stop-color="rgb(15,0,132)"/><stop offset="0.9609" stop-color="rgb(14,0,124)"/><stop offset="0.9688" stop-color="rgb(13,0,115)"/><stop offset="0.9766" stop-color="rgb(12,0,106)"/><stop offset="0.9844" stop-color="rgb(10,0,98)"/><stop offset="0.9922" stop-color="rgb(9,0,89)"/><stop offset="1.0000" stop-color="rgb(8,0,80)"/></linearGradient></defs>
<rect x="1596.3" y="17.1" width="24.90" height="530.40" fill="url(#g1)"/>
<line x1="1621.20" y1="17.10" x2="1630.20" y2="17.10" stroke="#000" stroke-width="2"/>
<text transform="translate(1638.20 28.40) scale(0.937 1)" font-size="30.75" fill="#000">0.3</text>
<line x1="1621.20" y1="105.50" x2="1630.20" y2="105.50" stroke="#000" stroke-width="2"/>
<text transform="translate(1638.20 116.80) scale(0.937 1)" font-size="30.75" fill="#000">0.2</text>
<line x1="1621.20" y1="193.90" x2="1630.20" y2="193.90" stroke="#000" stroke-width="2"/>
<text transform="translate(1638.20 205.20) scale(0.937 1)" font-size="30.75" fill="#000">0.1</text>
<line x1="1621.20" y1="282.30" x2="1630.20" y2="282.30" stroke="#000" stroke-width="2"/>
<text transform="translate(1638.20 293.60) scale(0.937 1)" font-size="30.75" fill="#000">0.0</text>
<line x1="1621.20" y1="370.70" x2="1630.20" y2="370.70" stroke="#000" stroke-width="2"/>
<text transform="translate(1638.20 382.00) scale(0.937 1)" font-size="30.75" fill="#000">−0.1</text>
<line x1="1621.20" y1="459.10" x2="1630.20" y2="459.10" stroke="#000" stroke-width="2"/>
<text transform="translate(1638.20 470.40) scale(0.937 1)" font-size="30.75" fill="#000">−0.2</text>
<line x1="1621.20" y1="547.50" x2="1630.20" y2="547.50" stroke="#000" stroke-width="2"/>
<text transform="translate(1638.20 558.80) scale(0.937 1)" font-size="30.75" fill="#000">−0.3</text>
<text transform="translate(1738.2 282.30) scale(0.937 1) rotate(-90)" font-size="30.75" text-anchor="middle" fill="#000">Standardised β</text>
<rect x="390.30" y="639.40" width="69.34" height="52.17" fill="#F7E0E2"/>
<rect x="458.64" y="639.40" width="69.34" height="52.17" fill="#F7E4E6"/>
<rect x="526.97" y="639.40" width="69.34" height="52.17" fill="#F08088"/>
<rect x="595.31" y="639.40" width="69.34" height="52.17" fill="#F0A4A8"/>
<rect x="663.64" y="639.40" width="69.34" height="52.17" fill="#FDF8F8"/>
<rect x="731.98" y="639.40" width="69.34" height="52.17" fill="#2200FF"/>
<rect x="800.31" y="639.40" width="69.34" height="52.17" fill="#3A18FF"/>
<rect x="868.65" y="639.40" width="69.34" height="52.17" fill="#7068FF"/>
<rect x="936.98" y="639.40" width="69.34" height="52.17" fill="#F5D0D4"/>
<rect x="1005.32" y="639.40" width="69.34" height="52.17" fill="#F8E4E6"/>
<rect x="1073.65" y="639.40" width="69.34" height="52.17" fill="#2400FF"/>
<rect x="1141.99" y="639.40" width="69.34" height="52.17" fill="#2800FF"/>
<rect x="1210.32" y="639.40" width="69.34" height="52.17" fill="#6A5AFF"/>
<rect x="1278.66" y="639.40" width="69.34" height="52.17" fill="#D8D8FC"/>
<rect x="1346.99" y="639.40" width="69.34" height="52.17" fill="#5030FF"/>
<rect x="1415.33" y="639.40" width="69.34" height="52.17" fill="#EEEEFA"/>
<rect x="1483.66" y="639.40" width="68.34" height="52.17" fill="#6A60FF"/>
<rect x="390.30" y="690.57" width="69.34" height="52.18" fill="#FCF5F5"/>
<rect x="458.64" y="690.57" width="69.34" height="52.18" fill="#DCDCFC"/>
<rect x="526.97" y="690.57" width="69.34" height="52.18" fill="#F2F3FB"/>
<rect x="595.31" y="690.57" width="69.34" height="52.18" fill="#EEF0FB"/>
<rect x="663.64" y="690.57" width="69.34" height="52.18" fill="#FAEEEE"/>
<rect x="731.98" y="690.57" width="69.34" height="52.18" fill="#E6E8FC"/>
<rect x="800.31" y="690.57" width="69.34" height="52.18" fill="#F8F8FC"/>
<rect x="868.65" y="690.57" width="69.34" height="52.18" fill="#C0C0FC"/>
<rect x="936.98" y="690.57" width="69.34" height="52.18" fill="#9090FF"/>
<rect x="1005.32" y="690.57" width="69.34" height="52.18" fill="#DCDCFC"/>
<rect x="1073.65" y="690.57" width="69.34" height="52.18" fill="#F08088"/>
<rect x="1141.99" y="690.57" width="69.34" height="52.18" fill="#7060FF"/>
<rect x="1210.32" y="690.57" width="69.34" height="52.18" fill="#2200FF"/>
<rect x="1278.66" y="690.57" width="69.34" height="52.18" fill="#2200FF"/>
<rect x="1346.99" y="690.57" width="69.34" height="52.18" fill="#FDF8F8"/>
<rect x="1415.33" y="690.57" width="69.34" height="52.18" fill="#F08C92"/>
<rect x="1483.66" y="690.57" width="68.34" height="52.18" fill="#9C98FF"/>
<rect x="390.30" y="741.75" width="69.34" height="52.17" fill="#F7E0E2"/>
<rect x="458.64" y="741.75" width="69.34" height="52.17" fill="#F5D0D4"/>
<rect x="526.97" y="741.75" width="69.34" height="52.17" fill="#FFFEFF"/>
<rect x="595.31" y="741.75" width="69.34" height="52.17" fill="#FFFEFF"/>
<rect x="663.64" y="741.75" width="69.34" height="52.17" fill="#FFFEFF"/>
<rect x="731.98" y="741.75" width="69.34" height="52.17" fill="#F9E8E8"/>
<rect x="800.31" y="741.75" width="69.34" height="52.17" fill="#E6E8FC"/>
<rect x="868.65" y="741.75" width="69.34" height="52.17" fill="#F5CCD0"/>
<rect x="936.98" y="741.75" width="69.34" height="52.17" fill="#F2BCC0"/>
<rect x="1005.32" y="741.75" width="69.34" height="52.17" fill="#F5D2D6"/>
<rect x="1073.65" y="741.75" width="69.34" height="52.17" fill="#CCCCFC"/>
<rect x="1141.99" y="741.75" width="69.34" height="52.17" fill="#F5D0D4"/>
<rect x="1210.32" y="741.75" width="69.34" height="52.17" fill="#F2B4B8"/>
<rect x="1278.66" y="741.75" width="69.34" height="52.17" fill="#F0ACB0"/>
<rect x="1346.99" y="741.75" width="69.34" height="52.17" fill="#FFFEFF"/>
<rect x="1415.33" y="741.75" width="69.34" height="52.17" fill="#E4E4FC"/>
<rect x="1483.66" y="741.75" width="68.34" height="52.17" fill="#F9EAEB"/>
<rect x="390.30" y="792.92" width="69.34" height="52.17" fill="#F5D8DC"/>
<rect x="458.64" y="792.92" width="69.34" height="52.17" fill="#F8F8FC"/>
<rect x="526.97" y="792.92" width="69.34" height="52.17" fill="#F9EEEE"/>
<rect x="595.31" y="792.92" width="69.34" height="52.17" fill="#FFFEFF"/>
<rect x="663.64" y="792.92" width="69.34" height="52.17" fill="#FFFEFF"/>
<rect x="731.98" y="792.92" width="69.34" height="52.17" fill="#FAEFEF"/>
<rect x="800.31" y="792.92" width="69.34" height="52.17" fill="#FFFEFF"/>
<rect x="868.65" y="792.92" width="69.34" height="52.17" fill="#F2BCC0"/>
<rect x="936.98" y="792.92" width="69.34" height="52.17" fill="#F2C0C4"/>
<rect x="1005.32" y="792.92" width="69.34" height="52.17" fill="#F9EAEA"/>
<rect x="1073.65" y="792.92" width="69.34" height="52.17" fill="#EEEEFC"/>
<rect x="1141.99" y="792.92" width="69.34" height="52.17" fill="#F8F8FC"/>
<rect x="1210.32" y="792.92" width="69.34" height="52.17" fill="#D0D0FC"/>
<rect x="1278.66" y="792.92" width="69.34" height="52.17" fill="#FAFAFC"/>
<rect x="1346.99" y="792.92" width="69.34" height="52.17" fill="#F0A4A8"/>
<rect x="1415.33" y="792.92" width="69.34" height="52.17" fill="#F0A4A8"/>
<rect x="1483.66" y="792.92" width="68.34" height="52.17" fill="#FAFAFC"/>
<rect x="390.30" y="844.10" width="69.34" height="52.18" fill="#C0C0FC"/>
<rect x="458.64" y="844.10" width="69.34" height="52.18" fill="#C0C0FC"/>
<rect x="526.97" y="844.10" width="69.34" height="52.18" fill="#FFFEFF"/>
<rect x="595.31" y="844.10" width="69.34" height="52.18" fill="#F2F3FB"/>
<rect x="663.64" y="844.10" width="69.34" height="52.18" fill="#F2F3FB"/>
<rect x="731.98" y="844.10" width="69.34" height="52.18" fill="#D8D8FC"/>
<rect x="800.31" y="844.10" width="69.34" height="52.18" fill="#FAF0F0"/>
<rect x="868.65" y="844.10" width="69.34" height="52.18" fill="#9898FF"/>
<rect x="936.98" y="844.10" width="69.34" height="52.18" fill="#8C88FF"/>
<rect x="1005.32" y="844.10" width="69.34" height="52.18" fill="#C0C0FC"/>
<rect x="1073.65" y="844.10" width="69.34" height="52.18" fill="#F9EAEA"/>
<rect x="1141.99" y="844.10" width="69.34" height="52.18" fill="#A0A0FF"/>
<rect x="1210.32" y="844.10" width="69.34" height="52.18" fill="#A8A8FC"/>
<rect x="1278.66" y="844.10" width="69.34" height="52.18" fill="#A8A8FC"/>
<rect x="1346.99" y="844.10" width="69.34" height="52.18" fill="#F0F0FA"/>
<rect x="1415.33" y="844.10" width="69.34" height="52.18" fill="#FFFFFF"/>
<rect x="1483.66" y="844.10" width="68.34" height="52.18" fill="#F0F0FA"/>
<rect x="390.30" y="895.27" width="69.34" height="52.17" fill="#DCDEFC"/>
<rect x="458.64" y="895.27" width="69.34" height="52.17" fill="#FEFAFA"/>
<rect x="526.97" y="895.27" width="69.34" height="52.17" fill="#DCDEFC"/>
<rect x="595.31" y="895.27" width="69.34" height="52.17" fill="#FFFEFF"/>
<rect x="663.64" y="895.27" width="69.34" height="52.17" fill="#F7E2E4"/>
<rect x="731.98" y="895.27" width="69.34" height="52.17" fill="#E8EAFC"/>
<rect x="800.31" y="895.27" width="69.34" height="52.17" fill="#E8EAFC"/>
<rect x="868.65" y="895.27" width="69.34" height="52.17" fill="#E8EAFC"/>
<rect x="936.98" y="895.27" width="69.34" height="52.17" fill="#D0D0FC"/>
<rect x="1005.32" y="895.27" width="69.34" height="52.17" fill="#F0F0FA"/>
<rect x="1073.65" y="895.27" width="69.34" height="52.17" fill="#ECECFA"/>
<rect x="1141.99" y="895.27" width="69.34" height="52.17" fill="#F7DEE0"/>
<rect x="1210.32" y="895.27" width="69.34" height="52.17" fill="#F7DEE0"/>
<rect x="1278.66" y="895.27" width="69.34" height="52.17" fill="#F5C8CC"/>
<rect x="1346.99" y="895.27" width="69.34" height="52.17" fill="#F0F0FA"/>
<rect x="1415.33" y="895.27" width="69.34" height="52.17" fill="#FFFFFF"/>
<rect x="1483.66" y="895.27" width="68.34" height="52.17" fill="#E4E4FC"/>
<rect x="390.30" y="946.45" width="69.34" height="52.18" fill="#F08890"/>
<rect x="458.64" y="946.45" width="69.34" height="52.18" fill="#F2B4B8"/>
<rect x="526.97" y="946.45" width="69.34" height="52.18" fill="#F55860"/>
<rect x="595.31" y="946.45" width="69.34" height="52.18" fill="#F9EAEB"/>
<rect x="663.64" y="946.45" width="69.34" height="52.18" fill="#A0A0FF"/>
<rect x="731.98" y="946.45" width="69.34" height="52.18" fill="#F26870"/>
<rect x="800.31" y="946.45" width="69.34" height="52.18" fill="#F5C8CC"/>
<rect x="868.65" y="946.45" width="69.34" height="52.18" fill="#FF1E10"/>
<rect x="936.98" y="946.45" width="69.34" height="52.18" fill="#FF1E10"/>
<rect x="1005.32" y="946.45" width="69.34" height="52.18" fill="#F0A8AC"/>
<rect x="1073.65" y="946.45" width="69.34" height="52.18" fill="#F56060"/>
<rect x="1141.99" y="946.45" width="69.34" height="52.18" fill="#2200FF"/>
<rect x="1210.32" y="946.45" width="69.34" height="52.18" fill="#14007A"/>
<rect x="1278.66" y="946.45" width="69.34" height="52.18" fill="#1E00C8"/>
<rect x="1346.99" y="946.45" width="69.34" height="52.18" fill="#F02010"/>
<rect x="1415.33" y="946.45" width="69.34" height="52.18" fill="#F55A60"/>
<rect x="1483.66" y="946.45" width="68.34" height="52.18" fill="#F08C90"/>
<rect x="390.30" y="997.62" width="69.34" height="51.17" fill="#FF2820"/>
<rect x="458.64" y="997.62" width="69.34" height="51.17" fill="#F5D6D9"/>
<rect x="526.97" y="997.62" width="69.34" height="51.17" fill="#E6E8FC"/>
<rect x="595.31" y="997.62" width="69.34" height="51.17" fill="#F0A8AC"/>
<rect x="663.64" y="997.62" width="69.34" height="51.17" fill="#F0A8AC"/>
<rect x="731.98" y="997.62" width="69.34" height="51.17" fill="#F07078"/>
<rect x="800.31" y="997.62" width="69.34" height="51.17" fill="#B4B4FC"/>
<rect x="868.65" y="997.62" width="69.34" height="51.17" fill="#FF2010"/>
<rect x="936.98" y="997.62" width="69.34" height="51.17" fill="#880E0E"/>
<rect x="1005.32" y="997.62" width="69.34" height="51.17" fill="#FF1E10"/>
<rect x="1073.65" y="997.62" width="69.34" height="51.17" fill="#2600FF"/>
<rect x="1141.99" y="997.62" width="69.34" height="51.17" fill="#2200FF"/>
<rect x="1210.32" y="997.62" width="69.34" height="51.17" fill="#5C48FF"/>
<rect x="1278.66" y="997.62" width="69.34" height="51.17" fill="#D8D8FC"/>
<rect x="1346.99" y="997.62" width="69.34" height="51.17" fill="#F06C74"/>
<rect x="1415.33" y="997.62" width="69.34" height="51.17" fill="#F55A60"/>
<rect x="1483.66" y="997.62" width="68.34" height="51.17" fill="#ACACFC"/>
<text transform="translate(561.94 673.99) scale(1 1.08)" font-size="29" text-anchor="middle" fill="#ffffff" stroke="#ffffff" stroke-width="0.6" stroke-linejoin="round">**</text>
<text transform="translate(630.27 673.99) scale(1 1.08)" font-size="29" text-anchor="middle" fill="#262626" stroke="#262626" stroke-width="0.6" stroke-linejoin="round">**</text>
<text transform="translate(766.94 673.99) scale(1 1.08)" font-size="29" text-anchor="middle" fill="#ffffff" stroke="#ffffff" stroke-width="0.6" stroke-linejoin="round">**</text>
<text transform="translate(835.28 673.99) scale(1 1.08)" font-size="29" text-anchor="middle" fill="#ffffff" stroke="#ffffff" stroke-width="0.6" stroke-linejoin="round">**</text>
<text transform="translate(903.61 673.99) scale(1 1.08)" font-size="29" text-anchor="middle" fill="#ffffff" stroke="#ffffff" stroke-width="0.6" stroke-linejoin="round">**</text>
<text transform="translate(1108.62 673.99) scale(1 1.08)" font-size="29" text-anchor="middle" fill="#ffffff" stroke="#ffffff" stroke-width="0.6" stroke-linejoin="round">**</text>
<text transform="translate(1176.96 673.99) scale(1 1.08)" font-size="29" text-anchor="middle" fill="#ffffff" stroke="#ffffff" stroke-width="0.6" stroke-linejoin="round">**</text>
<text transform="translate(1245.29 673.99) scale(1 1.08)" font-size="29" text-anchor="middle" fill="#ffffff" stroke="#ffffff" stroke-width="0.6" stroke-linejoin="round">**</text>
<text transform="translate(1381.96 673.99) scale(1 1.08)" font-size="29" text-anchor="middle" fill="#ffffff" stroke="#ffffff" stroke-width="0.6" stroke-linejoin="round">**</text>
<text transform="translate(1518.63 673.99) scale(1 1.08)" font-size="29" text-anchor="middle" fill="#ffffff" stroke="#ffffff" stroke-width="0.6" stroke-linejoin="round">**</text>
<line x1="381.80" y1="664.99" x2="390.30" y2="664.99" stroke="#000" stroke-width="2"/>
<text transform="translate(373.86 676.59) scale(0.9371 1)" font-size="30.75" text-anchor="end" fill="#000">Hypertension (15.9k)</text>
<text transform="translate(1108.62 725.16) scale(1 1.08)" font-size="29" text-anchor="middle" fill="#262626" stroke="#262626" stroke-width="0.6" stroke-linejoin="round">*</text>
<text transform="translate(1176.96 725.16) scale(1 1.08)" font-size="29" text-anchor="middle" fill="#ffffff" stroke="#ffffff" stroke-width="0.6" stroke-linejoin="round">*</text>
<text transform="translate(1245.29 725.16) scale(1 1.08)" font-size="29" text-anchor="middle" fill="#ffffff" stroke="#ffffff" stroke-width="0.6" stroke-linejoin="round">**</text>
<text transform="translate(1313.63 725.16) scale(1 1.08)" font-size="29" text-anchor="middle" fill="#ffffff" stroke="#ffffff" stroke-width="0.6" stroke-linejoin="round">**</text>
<line x1="381.80" y1="716.16" x2="390.30" y2="716.16" stroke="#000" stroke-width="2"/>
<text transform="translate(373.85 727.76) scale(0.9333 1)" font-size="30.75" text-anchor="end" fill="#000">Amblyopia (2.2k)</text>
<text transform="translate(903.61 776.34) scale(1 1.08)" font-size="29" text-anchor="middle" fill="#262626" stroke="#262626" stroke-width="0.6" stroke-linejoin="round">*</text>
<text transform="translate(971.95 776.34) scale(1 1.08)" font-size="29" text-anchor="middle" fill="#262626" stroke="#262626" stroke-width="0.6" stroke-linejoin="round">**</text>
<text transform="translate(1108.62 776.34) scale(1 1.08)" font-size="29" text-anchor="middle" fill="#262626" stroke="#262626" stroke-width="0.6" stroke-linejoin="round">*</text>
<text transform="translate(1245.29 776.34) scale(1 1.08)" font-size="29" text-anchor="middle" fill="#262626" stroke="#262626" stroke-width="0.6" stroke-linejoin="round">**</text>
<text transform="translate(1313.63 776.34) scale(1 1.08)" font-size="29" text-anchor="middle" fill="#262626" stroke="#262626" stroke-width="0.6" stroke-linejoin="round">**</text>
<line x1="381.80" y1="767.34" x2="390.30" y2="767.34" stroke="#000" stroke-width="2"/>
<text transform="translate(373.86 778.94) scale(0.9392 1)" font-size="30.75" text-anchor="end" fill="#000">Presbyopia (26.0k)</text>
<text transform="translate(903.61 827.51) scale(1 1.08)" font-size="29" text-anchor="middle" fill="#262626" stroke="#262626" stroke-width="0.6" stroke-linejoin="round">*</text>
<text transform="translate(971.95 827.51) scale(1 1.08)" font-size="29" text-anchor="middle" fill="#262626" stroke="#262626" stroke-width="0.6" stroke-linejoin="round">*</text>
<text transform="translate(1381.96 827.51) scale(1 1.08)" font-size="29" text-anchor="middle" fill="#262626" stroke="#262626" stroke-width="0.6" stroke-linejoin="round">**</text>
<text transform="translate(1450.30 827.51) scale(1 1.08)" font-size="29" text-anchor="middle" fill="#262626" stroke="#262626" stroke-width="0.6" stroke-linejoin="round">**</text>
<line x1="381.80" y1="818.51" x2="390.30" y2="818.51" stroke="#000" stroke-width="2"/>
<text transform="translate(373.86 830.11) scale(0.9386 1)" font-size="30.75" text-anchor="end" fill="#000">Hypermetropia (12.2k)</text>
<text transform="translate(425.27 878.69) scale(1 1.08)" font-size="29" text-anchor="middle" fill="#262626" stroke="#262626" stroke-width="0.6" stroke-linejoin="round">*</text>
<text transform="translate(493.60 878.69) scale(1 1.08)" font-size="29" text-anchor="middle" fill="#262626" stroke="#262626" stroke-width="0.6" stroke-linejoin="round">**</text>
<text transform="translate(903.61 878.69) scale(1 1.08)" font-size="29" text-anchor="middle" fill="#ffffff" stroke="#ffffff" stroke-width="0.6" stroke-linejoin="round">**</text>
<text transform="translate(971.95 878.69) scale(1 1.08)" font-size="29" text-anchor="middle" fill="#ffffff" stroke="#ffffff" stroke-width="0.6" stroke-linejoin="round">**</text>
<text transform="translate(1040.29 878.69) scale(1 1.08)" font-size="29" text-anchor="middle" fill="#262626" stroke="#262626" stroke-width="0.6" stroke-linejoin="round">**</text>
<text transform="translate(1176.96 878.69) scale(1 1.08)" font-size="29" text-anchor="middle" fill="#ffffff" stroke="#ffffff" stroke-width="0.6" stroke-linejoin="round">**</text>
<text transform="translate(1245.29 878.69) scale(1 1.08)" font-size="29" text-anchor="middle" fill="#262626" stroke="#262626" stroke-width="0.6" stroke-linejoin="round">**</text>
<text transform="translate(1313.63 878.69) scale(1 1.08)" font-size="29" text-anchor="middle" fill="#262626" stroke="#262626" stroke-width="0.6" stroke-linejoin="round">**</text>
<line x1="381.80" y1="869.69" x2="390.30" y2="869.69" stroke="#000" stroke-width="2"/>
<text transform="translate(373.86 881.29) scale(0.9409 1)" font-size="30.75" text-anchor="end" fill="#000">Myopia (24.6k)</text>
<line x1="381.80" y1="920.86" x2="390.30" y2="920.86" stroke="#000" stroke-width="2"/>
<text transform="translate(373.85 932.46) scale(0.9345 1)" font-size="30.75" text-anchor="end" fill="#000">Astigmatism (8.1k)</text>
<text transform="translate(903.61 981.04) scale(1 1.08)" font-size="29" text-anchor="middle" fill="#ffffff" stroke="#ffffff" stroke-width="0.6" stroke-linejoin="round">*</text>
<text transform="translate(971.95 981.04) scale(1 1.08)" font-size="29" text-anchor="middle" fill="#ffffff" stroke="#ffffff" stroke-width="0.6" stroke-linejoin="round">*</text>
<text transform="translate(1176.96 981.04) scale(1 1.08)" font-size="29" text-anchor="middle" fill="#ffffff" stroke="#ffffff" stroke-width="0.6" stroke-linejoin="round">**</text>
<text transform="translate(1245.29 981.04) scale(1 1.08)" font-size="29" text-anchor="middle" fill="#ffffff" stroke="#ffffff" stroke-width="0.6" stroke-linejoin="round">**</text>
<text transform="translate(1313.63 981.04) scale(1 1.08)" font-size="29" text-anchor="middle" fill="#ffffff" stroke="#ffffff" stroke-width="0.6" stroke-linejoin="round">**</text>
<text transform="translate(1381.96 981.04) scale(1 1.08)" font-size="29" text-anchor="middle" fill="#ffffff" stroke="#ffffff" stroke-width="0.6" stroke-linejoin="round">**</text>
<line x1="381.80" y1="972.04" x2="390.30" y2="972.04" stroke="#000" stroke-width="2"/>
<text transform="translate(373.86 983.64) scale(0.9375 1)" font-size="30.75" text-anchor="end" fill="#000">Diabetes-eye (0.6k)</text>
<text transform="translate(971.95 1032.21) scale(1 1.08)" font-size="29" text-anchor="middle" fill="#ffffff" stroke="#ffffff" stroke-width="0.6" stroke-linejoin="round">**</text>
<line x1="381.80" y1="1023.21" x2="390.30" y2="1023.21" stroke="#000" stroke-width="2"/>
<text transform="translate(373.85 1034.81) scale(0.9344 1)" font-size="30.75" text-anchor="end" fill="#000">Atherosclerosis (0.4k)</text>
<line x1="424.47" y1="1048.80" x2="424.47" y2="1058.80" stroke="#000" stroke-width="2"/>
<line x1="492.80" y1="1048.80" x2="492.80" y2="1058.80" stroke="#000" stroke-width="2"/>
<line x1="561.14" y1="1048.80" x2="561.14" y2="1058.80" stroke="#000" stroke-width="2"/>
<line x1="629.47" y1="1048.80" x2="629.47" y2="1058.80" stroke="#000" stroke-width="2"/>
<line x1="697.81" y1="1048.80" x2="697.81" y2="1058.80" stroke="#000" stroke-width="2"/>
<line x1="766.14" y1="1048.80" x2="766.14" y2="1058.80" stroke="#000" stroke-width="2"/>
<line x1="834.48" y1="1048.80" x2="834.48" y2="1058.80" stroke="#000" stroke-width="2"/>
<line x1="902.81" y1="1048.80" x2="902.81" y2="1058.80" stroke="#000" stroke-width="2"/>
<line x1="971.15" y1="1048.80" x2="971.15" y2="1058.80" stroke="#000" stroke-width="2"/>
<line x1="1039.49" y1="1048.80" x2="1039.49" y2="1058.80" stroke="#000" stroke-width="2"/>
<line x1="1107.82" y1="1048.80" x2="1107.82" y2="1058.80" stroke="#000" stroke-width="2"/>
<line x1="1176.16" y1="1048.80" x2="1176.16" y2="1058.80" stroke="#000" stroke-width="2"/>
<line x1="1244.49" y1="1048.80" x2="1244.49" y2="1058.80" stroke="#000" stroke-width="2"/>
<line x1="1312.83" y1="1048.80" x2="1312.83" y2="1058.80" stroke="#000" stroke-width="2"/>
<line x1="1381.16" y1="1048.80" x2="1381.16" y2="1058.80" stroke="#000" stroke-width="2"/>
<line x1="1449.50" y1="1048.80" x2="1449.50" y2="1058.80" stroke="#000" stroke-width="2"/>
<line x1="1517.83" y1="1048.80" x2="1517.83" y2="1058.80" stroke="#000" stroke-width="2"/>
<text transform="translate(1.9 655.1) scale(1.1 1)" font-size="29.6" fill="#000" stroke="#000" stroke-width="0.5" style="font-family:'Liberation Serif',serif">(b)</text>
<defs><linearGradient id="g2" x1="0" y1="0" x2="0" y2="1"><stop offset="0.0000" stop-color="rgb(128,12,12)"/><stop offset="0.0078" stop-color="rgb(132,13,12)"/><stop offset="0.0156" stop-color="rgb(136,13,12)"/><stop offset="0.0234" stop-color="rgb(140,14,12)"/><stop offset="0.0312" stop-color="rgb(144,14,12)"/><stop offset="0.0391" stop-color="rgb(148,15,13)"/><stop offset="0.0469" stop-color="rgb(152,15,13)"/><stop offset="0.0547" stop-color="rgb(156,16,13)"/><stop offset="0.0625" stop-color="rgb(160,16,13)"/><stop offset="0.0703" stop-color="rgb(164,17,13)"/><stop offset="0.0781" stop-color="rgb(168,18,13)"/><stop offset="0.0859" stop-color="rgb(172,18,13)"/><stop offset="0.0938" stop-color="rgb(176,19,14)"/><stop offset="0.1016" stop-color="rgb(180,19,14)"/><stop offset="0.1094" stop-color="rgb(184,20,14)"/><stop offset="0.1172" stop-color="rgb(188,20,14)"/><stop offset="0.1250" stop-color="rgb(192,21,14)"/><stop offset="0.1328" stop-color="rgb(195,22,14)"/><stop offset="0.1406" stop-color="rgb(199,22,14)"/><stop offset="0.1484" stop-color="rgb(203,23,14)"/><stop offset="0.1562" stop-color="rgb(207,23,14)"/><stop offset="0.1641" stop-color="rgb(211,24,15)"/><stop offset="0.1719" stop-color="rgb(215,24,15)"/><stop offset="0.1797" stop-color="rgb(219,25,15)"/><stop offset="0.1875" stop-color="rgb(223,26,15)"/><stop offset="0.1953" stop-color="rgb(227,26,15)"/><stop offset="0.2031" stop-color="rgb(231,27,15)"/><stop offset="0.2109" stop-color="rgb(235,27,15)"/><stop offset="0.2188" stop-color="rgb(239,28,16)"/><stop offset="0.2266" stop-color="rgb(243,28,16)"/><stop offset="0.2344" stop-color="rgb(247,29,16)"/><stop offset="0.2422" stop-color="rgb(251,29,16)"/><stop offset="0.2500" stop-color="rgb(255,30,16)"/><stop offset="0.2578" stop-color="rgb(254,36,24)"/><stop offset="0.2656" stop-color="rgb(253,41,31)"/><stop offset="0.2734" stop-color="rgb(252,47,39)"/><stop offset="0.2812" stop-color="rgb(251,53,47)"/><stop offset="0.2891" stop-color="rgb(250,59,55)"/><stop offset="0.2969" stop-color="rgb(249,64,62)"/><stop offset="0.3047" stop-color="rgb(248,70,70)"/><stop offset="0.3125" stop-color="rgb(247,76,78)"/><stop offset="0.3203" stop-color="rgb(246,82,85)"/><stop offset="0.3281" stop-color="rgb(245,88,93)"/><stop offset="0.3359" stop-color="rgb(244,94,100)"/><stop offset="0.3438" stop-color="rgb(243,101,107)"/><stop offset="0.3516" stop-color="rgb(242,108,114)"/><stop offset="0.3594" stop-color="rgb(242,115,122)"/><stop offset="0.3672" stop-color="rgb(241,121,129)"/><stop offset="0.3750" stop-color="rgb(240,128,136)"/><stop offset="0.3828" stop-color="rgb(240,136,143)"/><stop offset="0.3906" stop-color="rgb(240,144,151)"/><stop offset="0.3984" stop-color="rgb(241,151,158)"/><stop offset="0.4062" stop-color="rgb(241,159,166)"/><stop offset="0.4141" stop-color="rgb(241,167,173)"/><stop offset="0.4219" stop-color="rgb(242,174,180)"/><stop offset="0.4297" stop-color="rgb(242,182,188)"/><stop offset="0.4375" stop-color="rgb(242,190,195)"/><stop offset="0.4453" stop-color="rgb(243,198,202)"/><stop offset="0.4531" stop-color="rgb(244,206,210)"/><stop offset="0.4609" stop-color="rgb(246,214,217)"/><stop offset="0.4688" stop-color="rgb(247,222,224)"/><stop offset="0.4766" stop-color="rgb(248,230,232)"/><stop offset="0.4844" stop-color="rgb(251,238,239)"/><stop offset="0.4922" stop-color="rgb(253,247,247)"/><stop offset="0.5000" stop-color="rgb(255,255,255)"/><stop offset="0.5078" stop-color="rgb(247,247,254)"/><stop offset="0.5156" stop-color="rgb(239,239,253)"/><stop offset="0.5234" stop-color="rgb(232,232,252)"/><stop offset="0.5312" stop-color="rgb(224,224,252)"/><stop offset="0.5391" stop-color="rgb(217,217,252)"/><stop offset="0.5469" stop-color="rgb(210,210,253)"/><stop offset="0.5547" stop-color="rgb(203,203,253)"/><stop offset="0.5625" stop-color="rgb(196,196,253)"/><stop offset="0.5703" stop-color="rgb(187,186,253)"/><stop offset="0.5781" stop-color="rgb(178,176,254)"/><stop offset="0.5859" stop-color="rgb(170,166,254)"/><stop offset="0.5938" stop-color="rgb(161,156,254)"/><stop offset="0.6016" stop-color="rgb(152,146,254)"/><stop offset="0.6094" stop-color="rgb(144,136,254)"/><stop offset="0.6172" stop-color="rgb(135,126,255)"/><stop offset="0.6250" stop-color="rgb(126,116,255)"/><stop offset="0.6328" stop-color="rgb(118,107,255)"/><stop offset="0.6406" stop-color="rgb(111,98,255)"/><stop offset="0.6484" stop-color="rgb(104,88,255)"/><stop offset="0.6562" stop-color="rgb(96,79,255)"/><stop offset="0.6641" stop-color="rgb(88,70,255)"/><stop offset="0.6719" stop-color="rgb(81,60,255)"/><stop offset="0.6797" stop-color="rgb(74,51,255)"/><stop offset="0.6875" stop-color="rgb(66,42,255)"/><stop offset="0.6953" stop-color="rgb(62,37,255)"/><stop offset="0.7031" stop-color="rgb(58,32,255)"/><stop offset="0.7109" stop-color="rgb(54,26,255)"/><stop offset="0.7188" stop-color="rgb(50,21,255)"/><stop offset="0.7266" stop-color="rgb(46,16,255)"/><stop offset="0.7344" stop-color="rgb(42,10,255)"/><stop offset="0.7422" stop-color="rgb(38,5,255)"/><stop offset="0.7500" stop-color="rgb(34,0,255)"/><stop offset="0.7578" stop-color="rgb(34,0,255)"/><stop offset="0.7656" stop-color="rgb(34,0,254)"/><stop offset="0.7734" stop-color="rgb(34,0,254)"/><stop offset="0.7812" stop-color="rgb(34,0,253)"/><stop offset="0.7891" stop-color="rgb(34,0,253)"/><stop offset="0.7969" stop-color="rgb(34,0,252)"/><stop offset="0.8047" stop-color="rgb(34,0,252)"/><stop offset="0.8125" stop-color="rgb(34,0,251)"/><stop offset="0.8203" stop-color="rgb(34,0,251)"/><stop offset="0.8281" stop-color="rgb(34,0,250)"/><stop offset="0.8359" stop-color="rgb(33,0,247)"/><stop offset="0.8438" stop-color="rgb(32,0,239)"/><stop offset="0.8516" stop-color="rgb(31,0,232)"/><stop offset="0.8594" stop-color="rgb(30,0,225)"/><stop offset="0.8672" stop-color="rgb(28,0,218)"/><stop offset="0.8750" stop-color="rgb(27,0,211)"/><stop offset="0.8828" stop-color="rgb(26,0,204)"/><stop offset="0.8906" stop-color="rgb(24,0,197)"/><stop offset="0.8984" stop-color="rgb(23,0,189)"/><stop offset="0.9062" stop-color="rgb(22,0,181)"/><stop offset="0.9141" stop-color="rgb(21,0,173)"/><stop offset="0.9219" stop-color="rgb(20,0,165)"/><stop offset="0.9297" stop-color="rgb(18,0,157)"/><stop offset="0.9375" stop-color="rgb(17,0,149)"/><stop offset="0.9453" stop-color="rgb(16,0,141)"/><stop offset="0.9531" stop-color="rgb(15,0,132)"/><stop offset="0.9609" stop-color="rgb(14,0,124)"/><stop offset="0.9688" stop-color="rgb(13,0,115)"/><stop offset="0.9766" stop-color="rgb(12,0,106)"/><stop offset="0.9844" stop-color="rgb(10,0,98)"/><stop offset="0.9922" stop-color="rgb(9,0,89)"/><stop offset="1.0000" stop-color="rgb(8,0,80)"/></linearGradient></defs>
<rect x="1596.9" y="639.4" width="19.40" height="409.40" fill="url(#g2)"/>
<line x1="1616.30" y1="724.74" x2="1625.30" y2="724.74" stroke="#000" stroke-width="2"/>
<text transform="translate(1633.30 736.04) scale(0.937 1)" font-size="30.75" fill="#000">0.2</text>
<line x1="1616.30" y1="844.10" x2="1625.30" y2="844.10" stroke="#000" stroke-width="2"/>
<text transform="translate(1633.30 855.40) scale(0.937 1)" font-size="30.75" fill="#000">0.0</text>
<line x1="1616.30" y1="963.46" x2="1625.30" y2="963.46" stroke="#000" stroke-width="2"/>
<text transform="translate(1633.30 974.76) scale(0.937 1)" font-size="30.75" fill="#000">−0.2</text>
<text transform="translate(1733.6 845.10) scale(0.937 1) rotate(-90)" font-size="30.75" text-anchor="middle" fill="#000">Standardised β</text>
<rect x="390.30" y="1136.50" width="69.34" height="52.17" fill="#F07078"/>
<rect x="458.64" y="1136.50" width="69.34" height="52.17" fill="#F2B0B5"/>
<rect x="526.97" y="1136.50" width="69.34" height="52.17" fill="#FF3030"/>
<rect x="595.31" y="1136.50" width="69.34" height="52.17" fill="#FFFEFF"/>
<rect x="663.64" y="1136.50" width="69.34" height="52.17" fill="#8480FF"/>
<rect x="731.98" y="1136.50" width="69.34" height="52.17" fill="#F08088"/>
<rect x="800.31" y="1136.50" width="69.34" height="52.17" fill="#F8E6E6"/>
<rect x="868.65" y="1136.50" width="69.34" height="52.17" fill="#F55A60"/>
<rect x="936.98" y="1136.50" width="69.34" height="52.17" fill="#FF3030"/>
<rect x="1005.32" y="1136.50" width="69.34" height="52.17" fill="#F2B0B5"/>
<rect x="1073.65" y="1136.50" width="69.34" height="52.17" fill="#ACACFC"/>
<rect x="1141.99" y="1136.50" width="69.34" height="52.17" fill="#1E00D0"/>
<rect x="1210.32" y="1136.50" width="69.34" height="52.17" fill="#1E00D0"/>
<rect x="1278.66" y="1136.50" width="69.34" height="52.17" fill="#2600FF"/>
<rect x="1346.99" y="1136.50" width="69.34" height="52.17" fill="#E82014"/>
<rect x="1415.33" y="1136.50" width="69.34" height="52.17" fill="#F55A60"/>
<rect x="1483.66" y="1136.50" width="68.34" height="52.17" fill="#F09094"/>
<rect x="390.30" y="1187.67" width="69.34" height="52.17" fill="#F2B4B8"/>
<rect x="458.64" y="1187.67" width="69.34" height="52.17" fill="#F09098"/>
<rect x="526.97" y="1187.67" width="69.34" height="52.17" fill="#FF2828"/>
<rect x="595.31" y="1187.67" width="69.34" height="52.17" fill="#F0A4A8"/>
<rect x="663.64" y="1187.67" width="69.34" height="52.17" fill="#C0C0FC"/>
<rect x="731.98" y="1187.67" width="69.34" height="52.17" fill="#F26870"/>
<rect x="800.31" y="1187.67" width="69.34" height="52.17" fill="#F7E0E2"/>
<rect x="868.65" y="1187.67" width="69.34" height="52.17" fill="#FF3C40"/>
<rect x="936.98" y="1187.67" width="69.34" height="52.17" fill="#F07C84"/>
<rect x="1005.32" y="1187.67" width="69.34" height="52.17" fill="#F08088"/>
<rect x="1073.65" y="1187.67" width="69.34" height="52.17" fill="#F5CED2"/>
<rect x="1141.99" y="1187.67" width="69.34" height="52.17" fill="#F2B4B8"/>
<rect x="1210.32" y="1187.67" width="69.34" height="52.17" fill="#F2F2FA"/>
<rect x="1278.66" y="1187.67" width="69.34" height="52.17" fill="#F8F8FC"/>
<rect x="1346.99" y="1187.67" width="69.34" height="52.17" fill="#FF3C40"/>
<rect x="1415.33" y="1187.67" width="69.34" height="52.17" fill="#F9ECEC"/>
<rect x="1483.66" y="1187.67" width="68.34" height="52.17" fill="#F26870"/>
<rect x="390.30" y="1238.84" width="69.34" height="52.17" fill="#F07880"/>
<rect x="458.64" y="1238.84" width="69.34" height="52.17" fill="#F09CA0"/>
<rect x="526.97" y="1238.84" width="69.34" height="52.17" fill="#FBF3F3"/>
<rect x="595.31" y="1238.84" width="69.34" height="52.17" fill="#F7DEE0"/>
<rect x="663.64" y="1238.84" width="69.34" height="52.17" fill="#F7DEE0"/>
<rect x="731.98" y="1238.84" width="69.34" height="52.17" fill="#FF1E10"/>
<rect x="800.31" y="1238.84" width="69.34" height="52.17" fill="#F07880"/>
<rect x="868.65" y="1238.84" width="69.34" height="52.17" fill="#FF2020"/>
<rect x="936.98" y="1238.84" width="69.34" height="52.17" fill="#FF2014"/>
<rect x="1005.32" y="1238.84" width="69.34" height="52.17" fill="#F09CA0"/>
<rect x="1073.65" y="1238.84" width="69.34" height="52.17" fill="#F26870"/>
<rect x="1141.99" y="1238.84" width="69.34" height="52.17" fill="#F08890"/>
<rect x="1210.32" y="1238.84" width="69.34" height="52.17" fill="#EAECFA"/>
<rect x="1278.66" y="1238.84" width="69.34" height="52.17" fill="#B4B4FC"/>
<rect x="1346.99" y="1238.84" width="69.34" height="52.17" fill="#DC2018"/>
<rect x="1415.33" y="1238.84" width="69.34" height="52.17" fill="#F26870"/>
<rect x="1483.66" y="1238.84" width="68.34" height="52.17" fill="#F26870"/>
<rect x="390.30" y="1290.01" width="69.34" height="52.17" fill="#F0A8AC"/>
<rect x="458.64" y="1290.01" width="69.34" height="52.17" fill="#F09098"/>
<rect x="526.97" y="1290.01" width="69.34" height="52.17" fill="#F8F8FC"/>
<rect x="595.31" y="1290.01" width="69.34" height="52.17" fill="#9090FF"/>
<rect x="663.64" y="1290.01" width="69.34" height="52.17" fill="#9494FC"/>
<rect x="731.98" y="1290.01" width="69.34" height="52.17" fill="#F2C0C4"/>
<rect x="800.31" y="1290.01" width="69.34" height="52.17" fill="#F2F3FB"/>
<rect x="868.65" y="1290.01" width="69.34" height="52.17" fill="#F26870"/>
<rect x="936.98" y="1290.01" width="69.34" height="52.17" fill="#F26870"/>
<rect x="1005.32" y="1290.01" width="69.34" height="52.17" fill="#F26870"/>
<rect x="1073.65" y="1290.01" width="69.34" height="52.17" fill="#BCBCFC"/>
<rect x="1141.99" y="1290.01" width="69.34" height="52.17" fill="#A4A4FC"/>
<rect x="1210.32" y="1290.01" width="69.34" height="52.17" fill="#C8C8FC"/>
<rect x="1278.66" y="1290.01" width="69.34" height="52.17" fill="#B0B0FC"/>
<rect x="1346.99" y="1290.01" width="69.34" height="52.17" fill="#C0C0FC"/>
<rect x="1415.33" y="1290.01" width="69.34" height="52.17" fill="#E6E6FC"/>
<rect x="1483.66" y="1290.01" width="68.34" height="52.17" fill="#E6E6FC"/>
<rect x="390.30" y="1341.18" width="69.34" height="52.17" fill="#F09CA0"/>
<rect x="458.64" y="1341.18" width="69.34" height="52.17" fill="#D0D0FC"/>
<rect x="526.97" y="1341.18" width="69.34" height="52.17" fill="#F09CA0"/>
<rect x="595.31" y="1341.18" width="69.34" height="52.17" fill="#F2F3FB"/>
<rect x="663.64" y="1341.18" width="69.34" height="52.17" fill="#BCBCFC"/>
<rect x="731.98" y="1341.18" width="69.34" height="52.17" fill="#F55A60"/>
<rect x="800.31" y="1341.18" width="69.34" height="52.17" fill="#FCF5F5"/>
<rect x="868.65" y="1341.18" width="69.34" height="52.17" fill="#F2B4B8"/>
<rect x="936.98" y="1341.18" width="69.34" height="52.17" fill="#FF3030"/>
<rect x="1005.32" y="1341.18" width="69.34" height="52.17" fill="#F07880"/>
<rect x="1073.65" y="1341.18" width="69.34" height="52.17" fill="#9494FC"/>
<rect x="1141.99" y="1341.18" width="69.34" height="52.17" fill="#9090FF"/>
<rect x="1210.32" y="1341.18" width="69.34" height="52.17" fill="#8484FF"/>
<rect x="1278.66" y="1341.18" width="69.34" height="52.17" fill="#B4B4FC"/>
<rect x="1346.99" y="1341.18" width="69.34" height="52.17" fill="#7068FF"/>
<rect x="1415.33" y="1341.18" width="69.34" height="52.17" fill="#FCF5F5"/>
<rect x="1483.66" y="1341.18" width="68.34" height="52.17" fill="#7068FF"/>
<rect x="390.30" y="1392.35" width="69.34" height="52.17" fill="#F7DEE0"/>
<rect x="458.64" y="1392.35" width="69.34" height="52.17" fill="#9494FC"/>
<rect x="526.97" y="1392.35" width="69.34" height="52.17" fill="#ACACFC"/>
<rect x="595.31" y="1392.35" width="69.34" height="52.17" fill="#8C8CFF"/>
<rect x="663.64" y="1392.35" width="69.34" height="52.17" fill="#D0D0FC"/>
<rect x="731.98" y="1392.35" width="69.34" height="52.17" fill="#1800AA"/>
<rect x="800.31" y="1392.35" width="69.34" height="52.17" fill="#C0C0FC"/>
<rect x="868.65" y="1392.35" width="69.34" height="52.17" fill="#2800FF"/>
<rect x="936.98" y="1392.35" width="69.34" height="52.17" fill="#2200FF"/>
<rect x="1005.32" y="1392.35" width="69.34" height="52.17" fill="#2600F0"/>
<rect x="1073.65" y="1392.35" width="69.34" height="52.17" fill="#FBF5F5"/>
<rect x="1141.99" y="1392.35" width="69.34" height="52.17" fill="#14009A"/>
<rect x="1210.32" y="1392.35" width="69.34" height="52.17" fill="#14009C"/>
<rect x="1278.66" y="1392.35" width="69.34" height="52.17" fill="#1A00B8"/>
<rect x="1346.99" y="1392.35" width="69.34" height="52.17" fill="#2400FF"/>
<rect x="1415.33" y="1392.35" width="69.34" height="52.17" fill="#F7DEE0"/>
<rect x="1483.66" y="1392.35" width="68.34" height="52.17" fill="#2A08FF"/>
<rect x="390.30" y="1443.52" width="69.34" height="52.17" fill="#E6E8FC"/>
<rect x="458.64" y="1443.52" width="69.34" height="52.17" fill="#B4B4FC"/>
<rect x="526.97" y="1443.52" width="69.34" height="52.17" fill="#7870FF"/>
<rect x="595.31" y="1443.52" width="69.34" height="52.17" fill="#A8A8FC"/>
<rect x="663.64" y="1443.52" width="69.34" height="52.17" fill="#FDF8F8"/>
<rect x="731.98" y="1443.52" width="69.34" height="52.17" fill="#F2F3FB"/>
<rect x="800.31" y="1443.52" width="69.34" height="52.17" fill="#FF3C40"/>
<rect x="868.65" y="1443.52" width="69.34" height="52.17" fill="#F8EAEA"/>
<rect x="936.98" y="1443.52" width="69.34" height="52.17" fill="#6A60FF"/>
<rect x="1005.32" y="1443.52" width="69.34" height="52.17" fill="#2400FF"/>
<rect x="1073.65" y="1443.52" width="69.34" height="52.17" fill="#F55A60"/>
<rect x="1141.99" y="1443.52" width="69.34" height="52.17" fill="#1A00AA"/>
<rect x="1210.32" y="1443.52" width="69.34" height="52.17" fill="#0A0060"/>
<rect x="1278.66" y="1443.52" width="69.34" height="52.17" fill="#080048"/>
<rect x="1346.99" y="1443.52" width="69.34" height="52.17" fill="#E8EAFC"/>
<rect x="1415.33" y="1443.52" width="69.34" height="52.17" fill="#F2F3FB"/>
<rect x="1483.66" y="1443.52" width="68.34" height="52.17" fill="#FFFEFF"/>
<rect x="390.30" y="1494.69" width="69.34" height="52.17" fill="#F2B4B8"/>
<rect x="458.64" y="1494.69" width="69.34" height="52.17" fill="#FBF3F3"/>
<rect x="526.97" y="1494.69" width="69.34" height="52.17" fill="#F8E8E8"/>
<rect x="595.31" y="1494.69" width="69.34" height="52.17" fill="#F2F3FB"/>
<rect x="663.64" y="1494.69" width="69.34" height="52.17" fill="#EEF0FB"/>
<rect x="731.98" y="1494.69" width="69.34" height="52.17" fill="#3010FF"/>
<rect x="800.31" y="1494.69" width="69.34" height="52.17" fill="#F09CA0"/>
<rect x="868.65" y="1494.69" width="69.34" height="52.17" fill="#5C50FF"/>
<rect x="936.98" y="1494.69" width="69.34" height="52.17" fill="#2A08FF"/>
<rect x="1005.32" y="1494.69" width="69.34" height="52.17" fill="#2A08FF"/>
<rect x="1073.65" y="1494.69" width="69.34" height="52.17" fill="#F2B4B8"/>
<rect x="1141.99" y="1494.69" width="69.34" height="52.17" fill="#140090"/>
<rect x="1210.32" y="1494.69" width="69.34" height="52.17" fill="#140090"/>
<rect x="1278.66" y="1494.69" width="69.34" height="52.17" fill="#14008E"/>
<rect x="1346.99" y="1494.69" width="69.34" height="52.17" fill="#7C78FF"/>
<rect x="1415.33" y="1494.69" width="69.34" height="52.17" fill="#EEEEFA"/>
<rect x="1483.66" y="1494.69" width="68.34" height="52.17" fill="#B4B4FC"/>
<rect x="390.30" y="1545.86" width="69.34" height="52.17" fill="#FF2820"/>
<rect x="458.64" y="1545.86" width="69.34" height="52.17" fill="#FF1E14"/>
<rect x="526.97" y="1545.86" width="69.34" height="52.17" fill="#F5CACE"/>
<rect x="595.31" y="1545.86" width="69.34" height="52.17" fill="#F2F3FB"/>
<rect x="663.64" y="1545.86" width="69.34" height="52.17" fill="#EAECFA"/>
<rect x="731.98" y="1545.86" width="69.34" height="52.17" fill="#FF3C40"/>
<rect x="800.31" y="1545.86" width="69.34" height="52.17" fill="#F09098"/>
<rect x="868.65" y="1545.86" width="69.34" height="52.17" fill="#FF4048"/>
<rect x="936.98" y="1545.86" width="69.34" height="52.17" fill="#E82014"/>
<rect x="1005.32" y="1545.86" width="69.34" height="52.17" fill="#F07C84"/>
<rect x="1073.65" y="1545.86" width="69.34" height="52.17" fill="#7470FF"/>
<rect x="1141.99" y="1545.86" width="69.34" height="52.17" fill="#C0C0FC"/>
<rect x="1210.32" y="1545.86" width="69.34" height="52.17" fill="#FFFEFF"/>
<rect x="1278.66" y="1545.86" width="69.34" height="52.17" fill="#E4E4FC"/>
<rect x="1346.99" y="1545.86" width="69.34" height="52.17" fill="#FBF0F0"/>
<rect x="1415.33" y="1545.86" width="69.34" height="52.17" fill="#F2B4B8"/>
<rect x="1483.66" y="1545.86" width="68.34" height="52.17" fill="#B4B4FC"/>
<rect x="390.30" y="1597.03" width="69.34" height="51.17" fill="#F5C8CC"/>
<rect x="458.64" y="1597.03" width="69.34" height="51.17" fill="#F08890"/>
<rect x="526.97" y="1597.03" width="69.34" height="51.17" fill="#F0A4A8"/>
<rect x="595.31" y="1597.03" width="69.34" height="51.17" fill="#E6E8FC"/>
<rect x="663.64" y="1597.03" width="69.34" height="51.17" fill="#AAAAFC"/>
<rect x="731.98" y="1597.03" width="69.34" height="51.17" fill="#F5CCD0"/>
<rect x="800.31" y="1597.03" width="69.34" height="51.17" fill="#E4E4FC"/>
<rect x="868.65" y="1597.03" width="69.34" height="51.17" fill="#F08890"/>
<rect x="936.98" y="1597.03" width="69.34" height="51.17" fill="#FF3030"/>
<rect x="1005.32" y="1597.03" width="69.34" height="51.17" fill="#F07078"/>
<rect x="1073.65" y="1597.03" width="69.34" height="51.17" fill="#F8F8FC"/>
<rect x="1141.99" y="1597.03" width="69.34" height="51.17" fill="#7068FF"/>
<rect x="1210.32" y="1597.03" width="69.34" height="51.17" fill="#5C50FF"/>
<rect x="1278.66" y="1597.03" width="69.34" height="51.17" fill="#8078FF"/>
<rect x="1346.99" y="1597.03" width="69.34" height="51.17" fill="#F0A0A4"/>
<rect x="1415.33" y="1597.03" width="69.34" height="51.17" fill="#F08890"/>
<rect x="1483.66" y="1597.03" width="68.34" height="51.17" fill="#D8D8FC"/>
<text transform="translate(425.27 1171.09) scale(1 1.08)" font-size="29" text-anchor="middle" fill="#ffffff" stroke="#ffffff" stroke-width="0.6" stroke-linejoin="round">*</text>
<text transform="translate(561.94 1171.09) scale(1 1.08)" font-size="29" text-anchor="middle" fill="#ffffff" stroke="#ffffff" stroke-width="0.6" stroke-linejoin="round">**</text>
<text transform="translate(698.61 1171.09) scale(1 1.08)" font-size="29" text-anchor="middle" fill="#ffffff" stroke="#ffffff" stroke-width="0.6" stroke-linejoin="round">**</text>
<text transform="translate(766.94 1171.09) scale(1 1.08)" font-size="29" text-anchor="middle" fill="#ffffff" stroke="#ffffff" stroke-width="0.6" stroke-linejoin="round">**</text>
<text transform="translate(903.61 1171.09) scale(1 1.08)" font-size="29" text-anchor="middle" fill="#ffffff" stroke="#ffffff" stroke-width="0.6" stroke-linejoin="round">**</text>
<text transform="translate(971.95 1171.09) scale(1 1.08)" font-size="29" text-anchor="middle" fill="#ffffff" stroke="#ffffff" stroke-width="0.6" stroke-linejoin="round">**</text>
<text transform="translate(1176.96 1171.09) scale(1 1.08)" font-size="29" text-anchor="middle" fill="#ffffff" stroke="#ffffff" stroke-width="0.6" stroke-linejoin="round">**</text>
<text transform="translate(1245.29 1171.09) scale(1 1.08)" font-size="29" text-anchor="middle" fill="#ffffff" stroke="#ffffff" stroke-width="0.6" stroke-linejoin="round">**</text>
<text transform="translate(1313.63 1171.09) scale(1 1.08)" font-size="29" text-anchor="middle" fill="#ffffff" stroke="#ffffff" stroke-width="0.6" stroke-linejoin="round">**</text>
<text transform="translate(1381.96 1171.09) scale(1 1.08)" font-size="29" text-anchor="middle" fill="#ffffff" stroke="#ffffff" stroke-width="0.6" stroke-linejoin="round">**</text>
<text transform="translate(1450.30 1171.09) scale(1 1.08)" font-size="29" text-anchor="middle" fill="#ffffff" stroke="#ffffff" stroke-width="0.6" stroke-linejoin="round">**</text>
<text transform="translate(1518.63 1171.09) scale(1 1.08)" font-size="29" text-anchor="middle" fill="#262626" stroke="#262626" stroke-width="0.6" stroke-linejoin="round">*</text>
<line x1="381.80" y1="1162.09" x2="390.30" y2="1162.09" stroke="#000" stroke-width="2"/>
<text transform="translate(373.84 1173.68) scale(0.9316 1)" font-size="30.75" text-anchor="end" fill="#000">Age Diabetes (3.3k)</text>
<text transform="translate(561.94 1222.26) scale(1 1.08)" font-size="29" text-anchor="middle" fill="#ffffff" stroke="#ffffff" stroke-width="0.6" stroke-linejoin="round">**</text>
<text transform="translate(766.94 1222.26) scale(1 1.08)" font-size="29" text-anchor="middle" fill="#ffffff" stroke="#ffffff" stroke-width="0.6" stroke-linejoin="round">*</text>
<text transform="translate(903.61 1222.26) scale(1 1.08)" font-size="29" text-anchor="middle" fill="#ffffff" stroke="#ffffff" stroke-width="0.6" stroke-linejoin="round">**</text>
<text transform="translate(971.95 1222.26) scale(1 1.08)" font-size="29" text-anchor="middle" fill="#ffffff" stroke="#ffffff" stroke-width="0.6" stroke-linejoin="round">*</text>
<text transform="translate(1381.96 1222.26) scale(1 1.08)" font-size="29" text-anchor="middle" fill="#ffffff" stroke="#ffffff" stroke-width="0.6" stroke-linejoin="round">**</text>
<text transform="translate(1518.63 1222.26) scale(1 1.08)" font-size="29" text-anchor="middle" fill="#ffffff" stroke="#ffffff" stroke-width="0.6" stroke-linejoin="round">**</text>
<line x1="381.80" y1="1213.26" x2="390.30" y2="1213.26" stroke="#000" stroke-width="2"/>
<text transform="translate(373.84 1224.86) scale(0.9325 1)" font-size="30.75" text-anchor="end" fill="#000">Age Angina (1.8k)</text>
<text transform="translate(766.94 1273.42) scale(1 1.08)" font-size="29" text-anchor="middle" fill="#ffffff" stroke="#ffffff" stroke-width="0.6" stroke-linejoin="round">**</text>
<text transform="translate(903.61 1273.42) scale(1 1.08)" font-size="29" text-anchor="middle" fill="#ffffff" stroke="#ffffff" stroke-width="0.6" stroke-linejoin="round">**</text>
<text transform="translate(971.95 1273.42) scale(1 1.08)" font-size="29" text-anchor="middle" fill="#ffffff" stroke="#ffffff" stroke-width="0.6" stroke-linejoin="round">**</text>
<text transform="translate(1108.62 1273.42) scale(1 1.08)" font-size="29" text-anchor="middle" fill="#ffffff" stroke="#ffffff" stroke-width="0.6" stroke-linejoin="round">*</text>
<text transform="translate(1381.96 1273.42) scale(1 1.08)" font-size="29" text-anchor="middle" fill="#ffffff" stroke="#ffffff" stroke-width="0.6" stroke-linejoin="round">**</text>
<text transform="translate(1450.30 1273.42) scale(1 1.08)" font-size="29" text-anchor="middle" fill="#ffffff" stroke="#ffffff" stroke-width="0.6" stroke-linejoin="round">*</text>
<text transform="translate(1518.63 1273.42) scale(1 1.08)" font-size="29" text-anchor="middle" fill="#ffffff" stroke="#ffffff" stroke-width="0.6" stroke-linejoin="round">*</text>
<line x1="381.80" y1="1264.42" x2="390.30" y2="1264.42" stroke="#000" stroke-width="2"/>
<text transform="translate(373.85 1276.02) scale(0.9337 1)" font-size="30.75" text-anchor="end" fill="#000">Age Heart attack (1.3k)</text>
<line x1="381.80" y1="1315.60" x2="390.30" y2="1315.60" stroke="#000" stroke-width="2"/>
<text transform="translate(373.85 1327.19) scale(0.9348 1)" font-size="30.75" text-anchor="end" fill="#000">Age DVT (1.3k)</text>
<text transform="translate(971.95 1375.77) scale(1 1.08)" font-size="29" text-anchor="middle" fill="#ffffff" stroke="#ffffff" stroke-width="0.6" stroke-linejoin="round">*</text>
<text transform="translate(1518.63 1375.77) scale(1 1.08)" font-size="29" text-anchor="middle" fill="#ffffff" stroke="#ffffff" stroke-width="0.6" stroke-linejoin="round">*</text>
<line x1="381.80" y1="1366.77" x2="390.30" y2="1366.77" stroke="#000" stroke-width="2"/>
<text transform="translate(373.85 1378.37) scale(0.9340 1)" font-size="30.75" text-anchor="end" fill="#000">Age Stroke (0.9k)</text>
<text transform="translate(766.94 1426.93) scale(1 1.08)" font-size="29" text-anchor="middle" fill="#ffffff" stroke="#ffffff" stroke-width="0.6" stroke-linejoin="round">**</text>
<text transform="translate(903.61 1426.93) scale(1 1.08)" font-size="29" text-anchor="middle" fill="#ffffff" stroke="#ffffff" stroke-width="0.6" stroke-linejoin="round">**</text>
<text transform="translate(971.95 1426.93) scale(1 1.08)" font-size="29" text-anchor="middle" fill="#ffffff" stroke="#ffffff" stroke-width="0.6" stroke-linejoin="round">**</text>
<text transform="translate(1040.29 1426.93) scale(1 1.08)" font-size="29" text-anchor="middle" fill="#ffffff" stroke="#ffffff" stroke-width="0.6" stroke-linejoin="round">**</text>
<text transform="translate(1176.96 1426.93) scale(1 1.08)" font-size="29" text-anchor="middle" fill="#ffffff" stroke="#ffffff" stroke-width="0.6" stroke-linejoin="round">**</text>
<text transform="translate(1245.29 1426.93) scale(1 1.08)" font-size="29" text-anchor="middle" fill="#ffffff" stroke="#ffffff" stroke-width="0.6" stroke-linejoin="round">**</text>
<text transform="translate(1313.63 1426.93) scale(1 1.08)" font-size="29" text-anchor="middle" fill="#ffffff" stroke="#ffffff" stroke-width="0.6" stroke-linejoin="round">**</text>
<text transform="translate(1381.96 1426.93) scale(1 1.08)" font-size="29" text-anchor="middle" fill="#ffffff" stroke="#ffffff" stroke-width="0.6" stroke-linejoin="round">**</text>
<text transform="translate(1518.63 1426.93) scale(1 1.08)" font-size="29" text-anchor="middle" fill="#ffffff" stroke="#ffffff" stroke-width="0.6" stroke-linejoin="round">**</text>
<line x1="381.80" y1="1417.93" x2="390.30" y2="1417.93" stroke="#000" stroke-width="2"/>
<text transform="translate(373.85 1429.53) scale(0.9345 1)" font-size="30.75" text-anchor="end" fill="#000">Age Glaucoma (1.1k)</text>
<text transform="translate(561.94 1478.11) scale(1 1.08)" font-size="29" text-anchor="middle" fill="#ffffff" stroke="#ffffff" stroke-width="0.6" stroke-linejoin="round">**</text>
<text transform="translate(630.27 1478.11) scale(1 1.08)" font-size="29" text-anchor="middle" fill="#262626" stroke="#262626" stroke-width="0.6" stroke-linejoin="round">*</text>
<text transform="translate(835.28 1478.11) scale(1 1.08)" font-size="29" text-anchor="middle" fill="#ffffff" stroke="#ffffff" stroke-width="0.6" stroke-linejoin="round">**</text>
<text transform="translate(971.95 1478.11) scale(1 1.08)" font-size="29" text-anchor="middle" fill="#ffffff" stroke="#ffffff" stroke-width="0.6" stroke-linejoin="round">**</text>
<text transform="translate(1040.29 1478.11) scale(1 1.08)" font-size="29" text-anchor="middle" fill="#ffffff" stroke="#ffffff" stroke-width="0.6" stroke-linejoin="round">**</text>
<text transform="translate(1108.62 1478.11) scale(1 1.08)" font-size="29" text-anchor="middle" fill="#ffffff" stroke="#ffffff" stroke-width="0.6" stroke-linejoin="round">**</text>
<text transform="translate(1176.96 1478.11) scale(1 1.08)" font-size="29" text-anchor="middle" fill="#ffffff" stroke="#ffffff" stroke-width="0.6" stroke-linejoin="round">**</text>
<text transform="translate(1245.29 1478.11) scale(1 1.08)" font-size="29" text-anchor="middle" fill="#ffffff" stroke="#ffffff" stroke-width="0.6" stroke-linejoin="round">**</text>
<text transform="translate(1313.63 1478.11) scale(1 1.08)" font-size="29" text-anchor="middle" fill="#ffffff" stroke="#ffffff" stroke-width="0.6" stroke-linejoin="round">**</text>
<line x1="381.80" y1="1469.11" x2="390.30" y2="1469.11" stroke="#000" stroke-width="2"/>
<text transform="translate(373.85 1480.70) scale(0.9338 1)" font-size="30.75" text-anchor="end" fill="#000">Age Cataract (3.4k)</text>
<text transform="translate(766.94 1529.28) scale(1 1.08)" font-size="29" text-anchor="middle" fill="#ffffff" stroke="#ffffff" stroke-width="0.6" stroke-linejoin="round">**</text>
<text transform="translate(903.61 1529.28) scale(1 1.08)" font-size="29" text-anchor="middle" fill="#ffffff" stroke="#ffffff" stroke-width="0.6" stroke-linejoin="round">*</text>
<text transform="translate(971.95 1529.28) scale(1 1.08)" font-size="29" text-anchor="middle" fill="#ffffff" stroke="#ffffff" stroke-width="0.6" stroke-linejoin="round">**</text>
<text transform="translate(1040.29 1529.28) scale(1 1.08)" font-size="29" text-anchor="middle" fill="#ffffff" stroke="#ffffff" stroke-width="0.6" stroke-linejoin="round">**</text>
<text transform="translate(1176.96 1529.28) scale(1 1.08)" font-size="29" text-anchor="middle" fill="#ffffff" stroke="#ffffff" stroke-width="0.6" stroke-linejoin="round">**</text>
<text transform="translate(1245.29 1529.28) scale(1 1.08)" font-size="29" text-anchor="middle" fill="#ffffff" stroke="#ffffff" stroke-width="0.6" stroke-linejoin="round">**</text>
<text transform="translate(1313.63 1529.28) scale(1 1.08)" font-size="29" text-anchor="middle" fill="#ffffff" stroke="#ffffff" stroke-width="0.6" stroke-linejoin="round">**</text>
<line x1="381.80" y1="1520.28" x2="390.30" y2="1520.28" stroke="#000" stroke-width="2"/>
<text transform="translate(373.85 1531.88) scale(0.9336 1)" font-size="30.75" text-anchor="end" fill="#000">Age Other ED (1.2k)</text>
<text transform="translate(971.95 1580.44) scale(1 1.08)" font-size="29" text-anchor="middle" fill="#ffffff" stroke="#ffffff" stroke-width="0.6" stroke-linejoin="round">**</text>
<line x1="381.80" y1="1571.44" x2="390.30" y2="1571.44" stroke="#000" stroke-width="2"/>
<text transform="translate(373.85 1583.04) scale(0.9332 1)" font-size="30.75" text-anchor="end" fill="#000">Age PE (0.5k)</text>
<text transform="translate(493.60 1631.62) scale(1 1.08)" font-size="29" text-anchor="middle" fill="#262626" stroke="#262626" stroke-width="0.6" stroke-linejoin="round">*</text>
<text transform="translate(903.61 1631.62) scale(1 1.08)" font-size="29" text-anchor="middle" fill="#262626" stroke="#262626" stroke-width="0.6" stroke-linejoin="round">*</text>
<text transform="translate(971.95 1631.62) scale(1 1.08)" font-size="29" text-anchor="middle" fill="#ffffff" stroke="#ffffff" stroke-width="0.6" stroke-linejoin="round">**</text>
<text transform="translate(1040.29 1631.62) scale(1 1.08)" font-size="29" text-anchor="middle" fill="#ffffff" stroke="#ffffff" stroke-width="0.6" stroke-linejoin="round">**</text>
<text transform="translate(1176.96 1631.62) scale(1 1.08)" font-size="29" text-anchor="middle" fill="#ffffff" stroke="#ffffff" stroke-width="0.6" stroke-linejoin="round">**</text>
<text transform="translate(1245.29 1631.62) scale(1 1.08)" font-size="29" text-anchor="middle" fill="#ffffff" stroke="#ffffff" stroke-width="0.6" stroke-linejoin="round">**</text>
<text transform="translate(1313.63 1631.62) scale(1 1.08)" font-size="29" text-anchor="middle" fill="#ffffff" stroke="#ffffff" stroke-width="0.6" stroke-linejoin="round">**</text>
<text transform="translate(1450.30 1631.62) scale(1 1.08)" font-size="29" text-anchor="middle" fill="#262626" stroke="#262626" stroke-width="0.6" stroke-linejoin="round">*</text>
<line x1="381.80" y1="1622.62" x2="390.30" y2="1622.62" stroke="#000" stroke-width="2"/>
<text transform="translate(373.85 1634.21) scale(0.9347 1)" font-size="30.75" text-anchor="end" fill="#000">Age Mortality (4.1k)</text>
<line x1="424.47" y1="1648.20" x2="424.47" y2="1658.20" stroke="#000" stroke-width="2"/>
<line x1="492.80" y1="1648.20" x2="492.80" y2="1658.20" stroke="#000" stroke-width="2"/>
<line x1="561.14" y1="1648.20" x2="561.14" y2="1658.20" stroke="#000" stroke-width="2"/>
<line x1="629.47" y1="1648.20" x2="629.47" y2="1658.20" stroke="#000" stroke-width="2"/>
<line x1="697.81" y1="1648.20" x2="697.81" y2="1658.20" stroke="#000" stroke-width="2"/>
<line x1="766.14" y1="1648.20" x2="766.14" y2="1658.20" stroke="#000" stroke-width="2"/>
<line x1="834.48" y1="1648.20" x2="834.48" y2="1658.20" stroke="#000" stroke-width="2"/>
<line x1="902.81" y1="1648.20" x2="902.81" y2="1658.20" stroke="#000" stroke-width="2"/>
<line x1="971.15" y1="1648.20" x2="971.15" y2="1658.20" stroke="#000" stroke-width="2"/>
<line x1="1039.49" y1="1648.20" x2="1039.49" y2="1658.20" stroke="#000" stroke-width="2"/>
<line x1="1107.82" y1="1648.20" x2="1107.82" y2="1658.20" stroke="#000" stroke-width="2"/>
<line x1="1176.16" y1="1648.20" x2="1176.16" y2="1658.20" stroke="#000" stroke-width="2"/>
<line x1="1244.49" y1="1648.20" x2="1244.49" y2="1658.20" stroke="#000" stroke-width="2"/>
<line x1="1312.83" y1="1648.20" x2="1312.83" y2="1658.20" stroke="#000" stroke-width="2"/>
<line x1="1381.16" y1="1648.20" x2="1381.16" y2="1658.20" stroke="#000" stroke-width="2"/>
<line x1="1449.50" y1="1648.20" x2="1449.50" y2="1658.20" stroke="#000" stroke-width="2"/>
<line x1="1517.83" y1="1648.20" x2="1517.83" y2="1658.20" stroke="#000" stroke-width="2"/>
<text transform="translate(1.9 1161.9) scale(1.1 1)" font-size="29.6" fill="#000" stroke="#000" stroke-width="0.5" style="font-family:'Liberation Serif',serif">(c)</text>
<defs><linearGradient id="g3" x1="0" y1="0" x2="0" y2="1"><stop offset="0.0000" stop-color="rgb(217,25,15)"/><stop offset="0.0078" stop-color="rgb(220,25,15)"/><stop offset="0.0156" stop-color="rgb(223,26,15)"/><stop offset="0.0234" stop-color="rgb(227,26,15)"/><stop offset="0.0312" stop-color="rgb(230,26,15)"/><stop offset="0.0391" stop-color="rgb(233,27,15)"/><stop offset="0.0469" stop-color="rgb(237,27,15)"/><stop offset="0.0547" stop-color="rgb(240,28,16)"/><stop offset="0.0625" stop-color="rgb(243,28,16)"/><stop offset="0.0703" stop-color="rgb(246,29,16)"/><stop offset="0.0781" stop-color="rgb(250,29,16)"/><stop offset="0.0859" stop-color="rgb(253,30,16)"/><stop offset="0.0938" stop-color="rgb(255,32,18)"/><stop offset="0.1016" stop-color="rgb(254,36,25)"/><stop offset="0.1094" stop-color="rgb(253,41,31)"/><stop offset="0.1172" stop-color="rgb(252,46,37)"/><stop offset="0.1250" stop-color="rgb(251,51,44)"/><stop offset="0.1328" stop-color="rgb(250,55,50)"/><stop offset="0.1406" stop-color="rgb(250,60,56)"/><stop offset="0.1484" stop-color="rgb(249,65,63)"/><stop offset="0.1562" stop-color="rgb(248,70,69)"/><stop offset="0.1641" stop-color="rgb(247,74,76)"/><stop offset="0.1719" stop-color="rgb(246,79,82)"/><stop offset="0.1797" stop-color="rgb(245,84,88)"/><stop offset="0.1875" stop-color="rgb(245,89,94)"/><stop offset="0.1953" stop-color="rgb(244,95,100)"/><stop offset="0.2031" stop-color="rgb(243,100,106)"/><stop offset="0.2109" stop-color="rgb(243,106,112)"/><stop offset="0.2188" stop-color="rgb(242,111,118)"/><stop offset="0.2266" stop-color="rgb(241,117,124)"/><stop offset="0.2344" stop-color="rgb(241,122,130)"/><stop offset="0.2422" stop-color="rgb(240,128,136)"/><stop offset="0.2500" stop-color="rgb(240,134,142)"/><stop offset="0.2578" stop-color="rgb(240,141,148)"/><stop offset="0.2656" stop-color="rgb(241,147,154)"/><stop offset="0.2734" stop-color="rgb(241,153,160)"/><stop offset="0.2812" stop-color="rgb(241,160,166)"/><stop offset="0.2891" stop-color="rgb(241,166,172)"/><stop offset="0.2969" stop-color="rgb(241,173,178)"/><stop offset="0.3047" stop-color="rgb(242,179,184)"/><stop offset="0.3125" stop-color="rgb(242,185,191)"/><stop offset="0.3203" stop-color="rgb(242,192,197)"/><stop offset="0.3281" stop-color="rgb(243,198,203)"/><stop offset="0.3359" stop-color="rgb(244,205,209)"/><stop offset="0.3438" stop-color="rgb(245,211,215)"/><stop offset="0.3516" stop-color="rgb(246,218,221)"/><stop offset="0.3594" stop-color="rgb(247,224,227)"/><stop offset="0.3672" stop-color="rgb(249,231,233)"/><stop offset="0.3750" stop-color="rgb(251,238,239)"/><stop offset="0.3828" stop-color="rgb(252,245,246)"/><stop offset="0.3906" stop-color="rgb(254,252,252)"/><stop offset="0.3984" stop-color="rgb(251,251,255)"/><stop offset="0.4062" stop-color="rgb(245,245,254)"/><stop offset="0.4141" stop-color="rgb(238,238,253)"/><stop offset="0.4219" stop-color="rgb(232,232,252)"/><stop offset="0.4297" stop-color="rgb(226,226,252)"/><stop offset="0.4375" stop-color="rgb(220,220,252)"/><stop offset="0.4453" stop-color="rgb(214,214,252)"/><stop offset="0.4531" stop-color="rgb(208,208,253)"/><stop offset="0.4609" stop-color="rgb(203,203,253)"/><stop offset="0.4688" stop-color="rgb(197,197,253)"/><stop offset="0.4766" stop-color="rgb(190,189,253)"/><stop offset="0.4844" stop-color="rgb(182,180,253)"/><stop offset="0.4922" stop-color="rgb(175,172,254)"/><stop offset="0.5000" stop-color="rgb(168,164,254)"/><stop offset="0.5078" stop-color="rgb(161,156,254)"/><stop offset="0.5156" stop-color="rgb(154,148,254)"/><stop offset="0.5234" stop-color="rgb(146,139,254)"/><stop offset="0.5312" stop-color="rgb(139,131,255)"/><stop offset="0.5391" stop-color="rgb(132,123,255)"/><stop offset="0.5469" stop-color="rgb(125,115,255)"/><stop offset="0.5547" stop-color="rgb(119,107,255)"/><stop offset="0.5625" stop-color="rgb(112,99,255)"/><stop offset="0.5703" stop-color="rgb(106,92,255)"/><stop offset="0.5781" stop-color="rgb(100,84,255)"/><stop offset="0.5859" stop-color="rgb(94,76,255)"/><stop offset="0.5938" stop-color="rgb(88,69,255)"/><stop offset="0.6016" stop-color="rgb(82,61,255)"/><stop offset="0.6094" stop-color="rgb(75,54,255)"/><stop offset="0.6172" stop-color="rgb(69,46,255)"/><stop offset="0.6250" stop-color="rgb(64,40,255)"/><stop offset="0.6328" stop-color="rgb(61,36,255)"/><stop offset="0.6406" stop-color="rgb(58,31,255)"/><stop offset="0.6484" stop-color="rgb(54,27,255)"/><stop offset="0.6562" stop-color="rgb(51,23,255)"/><stop offset="0.6641" stop-color="rgb(48,18,255)"/><stop offset="0.6719" stop-color="rgb(45,14,255)"/><stop offset="0.6797" stop-color="rgb(41,10,255)"/><stop offset="0.6875" stop-color="rgb(38,5,255)"/><stop offset="0.6953" stop-color="rgb(35,1,255)"/><stop offset="0.7031" stop-color="rgb(34,0,255)"/><stop offset="0.7109" stop-color="rgb(34,0,254)"/><stop offset="0.7188" stop-color="rgb(34,0,254)"/><stop offset="0.7266" stop-color="rgb(34,0,254)"/><stop offset="0.7344" stop-color="rgb(34,0,253)"/><stop offset="0.7422" stop-color="rgb(34,0,253)"/><stop offset="0.7500" stop-color="rgb(34,0,252)"/><stop offset="0.7578" stop-color="rgb(34,0,252)"/><stop offset="0.7656" stop-color="rgb(34,0,252)"/><stop offset="0.7734" stop-color="rgb(34,0,251)"/><stop offset="0.7812" stop-color="rgb(34,0,251)"/><stop offset="0.7891" stop-color="rgb(34,0,250)"/><stop offset="0.7969" stop-color="rgb(34,0,250)"/><stop offset="0.8047" stop-color="rgb(33,0,244)"/><stop offset="0.8125" stop-color="rgb(32,0,238)"/><stop offset="0.8203" stop-color="rgb(31,0,232)"/><stop offset="0.8281" stop-color="rgb(30,0,226)"/><stop offset="0.8359" stop-color="rgb(29,0,221)"/><stop offset="0.8438" stop-color="rgb(28,0,215)"/><stop offset="0.8516" stop-color="rgb(27,0,209)"/><stop offset="0.8594" stop-color="rgb(25,0,203)"/><stop offset="0.8672" stop-color="rgb(24,0,197)"/><stop offset="0.8750" stop-color="rgb(23,0,191)"/><stop offset="0.8828" stop-color="rgb(22,0,184)"/><stop offset="0.8906" stop-color="rgb(21,0,178)"/><stop offset="0.8984" stop-color="rgb(21,0,171)"/><stop offset="0.9062" stop-color="rgb(20,0,164)"/><stop offset="0.9141" stop-color="rgb(19,0,158)"/><stop offset="0.9219" stop-color="rgb(18,0,151)"/><stop offset="0.9297" stop-color="rgb(17,0,145)"/><stop offset="0.9375" stop-color="rgb(16,0,138)"/><stop offset="0.9453" stop-color="rgb(15,0,131)"/><stop offset="0.9531" stop-color="rgb(14,0,123)"/><stop offset="0.9609" stop-color="rgb(13,0,116)"/><stop offset="0.9688" stop-color="rgb(12,0,109)"/><stop offset="0.9766" stop-color="rgb(11,0,102)"/><stop offset="0.9844" stop-color="rgb(10,0,94)"/><stop offset="0.9922" stop-color="rgb(9,0,87)"/><stop offset="1.0000" stop-color="rgb(8,0,80)"/></linearGradient></defs>
<rect x="1597.6" y="1136.5" width="23.30" height="511.70" fill="url(#g3)"/>
<line x1="1620.90" y1="1201.46" x2="1629.90" y2="1201.46" stroke="#000" stroke-width="2"/>
<text transform="translate(1637.90 1212.76) scale(0.937 1)" font-size="30.75" fill="#000">1.10</text>
<line x1="1620.90" y1="1269.98" x2="1629.90" y2="1269.98" stroke="#000" stroke-width="2"/>
<text transform="translate(1637.90 1281.28) scale(0.937 1)" font-size="30.75" fill="#000">1.05</text>
<line x1="1620.90" y1="1338.49" x2="1629.90" y2="1338.49" stroke="#000" stroke-width="2"/>
<text transform="translate(1637.90 1349.79) scale(0.937 1)" font-size="30.75" fill="#000">1.00</text>
<line x1="1620.90" y1="1407.01" x2="1629.90" y2="1407.01" stroke="#000" stroke-width="2"/>
<text transform="translate(1637.90 1418.31) scale(0.937 1)" font-size="30.75" fill="#000">0.95</text>
<line x1="1620.90" y1="1475.53" x2="1629.90" y2="1475.53" stroke="#000" stroke-width="2"/>
<text transform="translate(1637.90 1486.83) scale(0.937 1)" font-size="30.75" fill="#000">0.90</text>
<line x1="1620.90" y1="1544.05" x2="1629.90" y2="1544.05" stroke="#000" stroke-width="2"/>
<text transform="translate(1637.90 1555.35) scale(0.937 1)" font-size="30.75" fill="#000">0.85</text>
<line x1="1620.90" y1="1612.57" x2="1629.90" y2="1612.57" stroke="#000" stroke-width="2"/>
<text transform="translate(1637.90 1623.87) scale(0.937 1)" font-size="30.75" fill="#000">0.80</text>
<text transform="translate(1734.3 1398.35) scale(0.937 1) rotate(-90)" font-size="30.75" text-anchor="middle" fill="#000">Hazard ratio</text>
<text transform="translate(405.97 1667.20) scale(0.937 1) rotate(-45)" x="0" y="22" font-size="30.75" text-anchor="end" fill="#000">A temporal angle</text>
<text transform="translate(474.30 1667.20) scale(0.937 1) rotate(-45)" x="0" y="22" font-size="30.75" text-anchor="end" fill="#000">V temporal angle</text>
<text transform="translate(542.64 1667.20) scale(0.937 1) rotate(-45)" x="0" y="22" font-size="30.75" text-anchor="end" fill="#000">V tortuosity</text>
<text transform="translate(610.97 1667.20) scale(0.937 1) rotate(-45)" x="0" y="22" font-size="30.75" text-anchor="end" fill="#000">A tortuosity</text>
<text transform="translate(679.31 1667.20) scale(0.937 1) rotate(-45)" x="0" y="22" font-size="30.75" text-anchor="end" fill="#000">ratio tortuosity</text>
<text transform="translate(747.64 1667.20) scale(0.937 1) rotate(-45)" x="0" y="22" font-size="30.75" text-anchor="end" fill="#000">A central retinal eq</text>
<text transform="translate(815.98 1667.20) scale(0.937 1) rotate(-45)" x="0" y="22" font-size="30.75" text-anchor="end" fill="#000">ratio central retinal eq</text>
<text transform="translate(884.31 1667.20) scale(0.937 1) rotate(-45)" x="0" y="22" font-size="30.75" text-anchor="end" fill="#000">A std diameter</text>
<text transform="translate(952.65 1667.20) scale(0.937 1) rotate(-45)" x="0" y="22" font-size="30.75" text-anchor="end" fill="#000">V std diameter</text>
<text transform="translate(1020.99 1667.20) scale(0.937 1) rotate(-45)" x="0" y="22" font-size="30.75" text-anchor="end" fill="#000">V central retinal eq</text>
<text transform="translate(1089.32 1667.20) scale(0.937 1) rotate(-45)" x="0" y="22" font-size="30.75" text-anchor="end" fill="#000">ratio vascular density</text>
<text transform="translate(1157.66 1667.20) scale(0.937 1) rotate(-45)" x="0" y="22" font-size="30.75" text-anchor="end" fill="#000">A vascular density</text>
<text transform="translate(1225.99 1667.20) scale(0.937 1) rotate(-45)" x="0" y="22" font-size="30.75" text-anchor="end" fill="#000">bifurcations</text>
<text transform="translate(1294.33 1667.20) scale(0.937 1) rotate(-45)" x="0" y="22" font-size="30.75" text-anchor="end" fill="#000">V vascular density</text>
<text transform="translate(1362.66 1667.20) scale(0.937 1) rotate(-45)" x="0" y="22" font-size="30.75" text-anchor="end" fill="#000">A median diameter</text>
<text transform="translate(1431.00 1667.20) scale(0.937 1) rotate(-45)" x="0" y="22" font-size="30.75" text-anchor="end" fill="#000">V median diameter</text>
<text transform="translate(1499.33 1667.20) scale(0.937 1) rotate(-45)" x="0" y="22" font-size="30.75" text-anchor="end" fill="#000">ratio median diameter</text>
</svg></body></html>
